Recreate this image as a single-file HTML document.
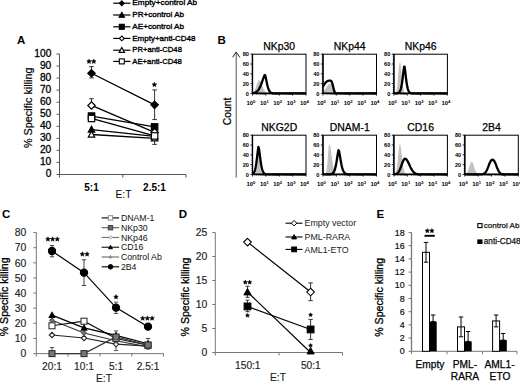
<!DOCTYPE html>
<html><head><meta charset="utf-8"><style>
html,body{margin:0;padding:0;background:#fff;overflow:hidden;width:520px;height:382px;}
svg{display:block;font-family:"Liberation Sans", sans-serif;}
</style></head><body>
<svg width="520" height="382" viewBox="0 0 520 382">
<rect width="520" height="382" fill="#fff"/>
<text x="17" y="43.6" font-size="11.5" text-anchor="start" font-weight="bold" fill="#000" >A</text>
<line x1="59.5" y1="54.0" x2="59.5" y2="174.5" stroke="#555" stroke-width="1" />
<line x1="56.5" y1="174.5" x2="59.5" y2="174.5" stroke="#555" stroke-width="1" />
<text x="51.3" y="177.4" font-size="10.2" text-anchor="end" font-weight="normal" fill="#000" stroke="#000" stroke-width="0.3">0</text>
<line x1="56.5" y1="162.45" x2="59.5" y2="162.45" stroke="#555" stroke-width="1" />
<text x="51.3" y="165.35" font-size="10.2" text-anchor="end" font-weight="normal" fill="#000" stroke="#000" stroke-width="0.3">10</text>
<line x1="56.5" y1="150.4" x2="59.5" y2="150.4" stroke="#555" stroke-width="1" />
<text x="51.3" y="153.3" font-size="10.2" text-anchor="end" font-weight="normal" fill="#000" stroke="#000" stroke-width="0.3">20</text>
<line x1="56.5" y1="138.35" x2="59.5" y2="138.35" stroke="#555" stroke-width="1" />
<text x="51.3" y="141.25" font-size="10.2" text-anchor="end" font-weight="normal" fill="#000" stroke="#000" stroke-width="0.3">30</text>
<line x1="56.5" y1="126.3" x2="59.5" y2="126.3" stroke="#555" stroke-width="1" />
<text x="51.3" y="129.2" font-size="10.2" text-anchor="end" font-weight="normal" fill="#000" stroke="#000" stroke-width="0.3">40</text>
<line x1="56.5" y1="114.25" x2="59.5" y2="114.25" stroke="#555" stroke-width="1" />
<text x="51.3" y="117.15" font-size="10.2" text-anchor="end" font-weight="normal" fill="#000" stroke="#000" stroke-width="0.3">50</text>
<line x1="56.5" y1="102.19999999999999" x2="59.5" y2="102.19999999999999" stroke="#555" stroke-width="1" />
<text x="51.3" y="105.1" font-size="10.2" text-anchor="end" font-weight="normal" fill="#000" stroke="#000" stroke-width="0.3">60</text>
<line x1="56.5" y1="90.14999999999999" x2="59.5" y2="90.14999999999999" stroke="#555" stroke-width="1" />
<text x="51.3" y="93.05" font-size="10.2" text-anchor="end" font-weight="normal" fill="#000" stroke="#000" stroke-width="0.3">70</text>
<line x1="56.5" y1="78.1" x2="59.5" y2="78.1" stroke="#555" stroke-width="1" />
<text x="51.3" y="81.0" font-size="10.2" text-anchor="end" font-weight="normal" fill="#000" stroke="#000" stroke-width="0.3">80</text>
<line x1="56.5" y1="66.05" x2="59.5" y2="66.05" stroke="#555" stroke-width="1" />
<text x="51.3" y="68.95" font-size="10.2" text-anchor="end" font-weight="normal" fill="#000" stroke="#000" stroke-width="0.3">90</text>
<line x1="56.5" y1="54.0" x2="59.5" y2="54.0" stroke="#555" stroke-width="1" />
<text x="51.3" y="56.9" font-size="10.2" text-anchor="end" font-weight="normal" fill="#000" stroke="#000" stroke-width="0.3">100</text>
<line x1="59.5" y1="174.5" x2="186" y2="174.5" stroke="#555" stroke-width="1" />
<line x1="59.5" y1="174.5" x2="59.5" y2="177.5" stroke="#555" stroke-width="1" />
<line x1="122.8" y1="174.5" x2="122.8" y2="177.5" stroke="#555" stroke-width="1" />
<line x1="186" y1="174.5" x2="186" y2="177.5" stroke="#555" stroke-width="1" />
<text x="91.5" y="190.8" font-size="10" text-anchor="middle" font-weight="bold" fill="#000" >5:1</text>
<text x="154.5" y="190.8" font-size="10" text-anchor="middle" font-weight="bold" fill="#000" >2.5:1</text>
<text x="123.5" y="197.6" font-size="10.2" text-anchor="middle" font-weight="normal" fill="#000" >E:T</text>
<text transform="translate(31.5,107.8) rotate(-90)" font-size="10.8" stroke="#000" stroke-width="0.2" text-anchor="middle">% Specific killing</text>
<line x1="91.5" y1="66.65249999999999" x2="91.5" y2="77.859" stroke="#333" stroke-width="1" />
<line x1="89.2" y1="66.65249999999999" x2="93.8" y2="66.65249999999999" stroke="#333" stroke-width="1" />
<line x1="89.2" y1="77.859" x2="93.8" y2="77.859" stroke="#333" stroke-width="1" />
<line x1="154.6" y1="89.90899999999999" x2="154.6" y2="119.55199999999999" stroke="#333" stroke-width="1" />
<line x1="152.29999999999998" y1="89.90899999999999" x2="156.9" y2="89.90899999999999" stroke="#333" stroke-width="1" />
<line x1="152.29999999999998" y1="119.55199999999999" x2="156.9" y2="119.55199999999999" stroke="#333" stroke-width="1" />
<line x1="91.5" y1="98.7055" x2="91.5" y2="105.815" stroke="#333" stroke-width="1" />
<line x1="89.2" y1="98.7055" x2="93.8" y2="98.7055" stroke="#333" stroke-width="1" />
<line x1="89.2" y1="105.815" x2="93.8" y2="105.815" stroke="#333" stroke-width="1" />
<line x1="154.6" y1="144.375" x2="154.6" y2="135.94" stroke="#333" stroke-width="1" />
<line x1="152.29999999999998" y1="144.375" x2="156.9" y2="144.375" stroke="#333" stroke-width="1" />
<line x1="152.29999999999998" y1="135.94" x2="156.9" y2="135.94" stroke="#333" stroke-width="1" />
<line x1="91.5" y1="73.28" x2="154.6" y2="104.851" stroke="#000" stroke-width="1.3" />
<path d="M91.5 69.58L95.2 73.28L91.5 76.98L87.8 73.28Z" fill="#000" stroke="#000" stroke-width="1.2"/>
<path d="M154.6 101.151L158.29999999999998 104.851L154.6 108.551L150.9 104.851Z" fill="#000" stroke="#000" stroke-width="1.2"/>
<line x1="91.5" y1="129.55349999999999" x2="154.6" y2="136.3015" stroke="#000" stroke-width="1.3" />
<path d="M91.5 126.35349999999998L94.7 132.1135L88.3 132.1135Z" fill="#000" stroke="#000" stroke-width="1.2"/>
<path d="M154.6 133.10150000000002L157.79999999999998 138.8615L151.4 138.8615Z" fill="#000" stroke="#000" stroke-width="1.2"/>
<line x1="91.5" y1="116.0575" x2="154.6" y2="126.9025" stroke="#000" stroke-width="1.3" />
<rect x="88.3" y="112.8575" width="6.4" height="6.4" fill="#000" stroke="#000" stroke-width="1.2"/>
<rect x="151.4" y="123.7025" width="6.4" height="6.4" fill="#000" stroke="#000" stroke-width="1.2"/>
<line x1="91.5" y1="105.4535" x2="154.6" y2="132.325" stroke="#000" stroke-width="1.3" />
<path d="M91.5 101.7535L95.2 105.4535L91.5 109.15350000000001L87.8 105.4535Z" fill="#fff" stroke="#000" stroke-width="1.2"/>
<path d="M154.6 128.625L158.29999999999998 132.325L154.6 136.02499999999998L150.9 132.325Z" fill="#fff" stroke="#000" stroke-width="1.2"/>
<line x1="91.5" y1="134.494" x2="154.6" y2="138.35" stroke="#000" stroke-width="1.3" />
<path d="M91.5 131.294L94.7 137.054L88.3 137.054Z" fill="#fff" stroke="#000" stroke-width="1.2"/>
<path d="M154.6 135.15L157.79999999999998 140.91L151.4 140.91Z" fill="#fff" stroke="#000" stroke-width="1.2"/>
<line x1="91.5" y1="118.4675" x2="154.6" y2="135.94" stroke="#000" stroke-width="1.3" />
<rect x="88.3" y="115.2675" width="6.4" height="6.4" fill="#fff" stroke="#000" stroke-width="1.2"/>
<rect x="151.4" y="132.74" width="6.4" height="6.4" fill="#fff" stroke="#000" stroke-width="1.2"/>
<polygon points="89.05,59.10 89.70,60.61 91.33,60.76 90.10,61.84 90.46,63.44 89.05,62.60 87.64,63.44 88.00,61.84 86.77,60.76 88.40,60.61" fill="#000" stroke="#000" stroke-width="0.5" stroke-linejoin="round"/>
<polygon points="93.75,59.10 94.40,60.61 96.03,60.76 94.80,61.84 95.16,63.44 93.75,62.60 92.34,63.44 92.70,61.84 91.47,60.76 93.10,60.61" fill="#000" stroke="#000" stroke-width="0.5" stroke-linejoin="round"/>
<polygon points="154.40,82.30 155.05,83.81 156.68,83.96 155.45,85.04 155.81,86.64 154.40,85.80 152.99,86.64 153.35,85.04 152.12,83.96 153.75,83.81" fill="#000" stroke="#000" stroke-width="0.5" stroke-linejoin="round"/>
<line x1="113.2" y1="3.2" x2="130.5" y2="3.2" stroke="#000" stroke-width="1.2" />
<path d="M121.8 0.8000000000000003L124.2 3.2L121.8 5.6L119.39999999999999 3.2Z" fill="#000" stroke="#000" stroke-width="1.1"/>
<text x="132.3" y="5.4" font-size="8.0" text-anchor="start" font-weight="normal" fill="#000" textLength="64.9" lengthAdjust="spacingAndGlyphs" stroke="#000" stroke-width="0.35">Empty+control Ab</text>
<line x1="113.2" y1="15.0" x2="130.5" y2="15.0" stroke="#000" stroke-width="1.2" />
<path d="M121.8 12.3L124.5 17.16L119.1 17.16Z" fill="#000" stroke="#000" stroke-width="1.1"/>
<text x="132.3" y="17.2" font-size="8.0" text-anchor="start" font-weight="normal" fill="#000" textLength="51.7" lengthAdjust="spacingAndGlyphs" stroke="#000" stroke-width="0.35">PR+control Ab</text>
<line x1="113.2" y1="26.8" x2="130.5" y2="26.8" stroke="#000" stroke-width="1.2" />
<rect x="119.3" y="24.3" width="5.0" height="5.0" fill="#000" stroke="#000" stroke-width="1.1"/>
<text x="132.3" y="29.0" font-size="8.0" text-anchor="start" font-weight="normal" fill="#000" textLength="51.7" lengthAdjust="spacingAndGlyphs" stroke="#000" stroke-width="0.35">AE+control Ab</text>
<line x1="113.2" y1="38.4" x2="130.5" y2="38.4" stroke="#000" stroke-width="1.2" />
<path d="M121.8 36.0L124.2 38.4L121.8 40.8L119.39999999999999 38.4Z" fill="#fff" stroke="#000" stroke-width="1.1"/>
<text x="132.3" y="40.6" font-size="8.0" text-anchor="start" font-weight="normal" fill="#000" textLength="63.2" lengthAdjust="spacingAndGlyphs" stroke="#000" stroke-width="0.35">Empty+anti-CD48</text>
<line x1="113.2" y1="50.2" x2="130.5" y2="50.2" stroke="#000" stroke-width="1.2" />
<path d="M121.8 47.5L124.5 52.36L119.1 52.36Z" fill="#fff" stroke="#000" stroke-width="1.1"/>
<text x="132.3" y="52.400000000000006" font-size="8.0" text-anchor="start" font-weight="normal" fill="#000" textLength="49.6" lengthAdjust="spacingAndGlyphs" stroke="#000" stroke-width="0.35">PR+anti-CD48</text>
<line x1="113.2" y1="61.4" x2="130.5" y2="61.4" stroke="#000" stroke-width="1.2" />
<rect x="119.3" y="58.9" width="5.0" height="5.0" fill="#fff" stroke="#000" stroke-width="1.1"/>
<text x="132.3" y="63.6" font-size="8.0" text-anchor="start" font-weight="normal" fill="#000" textLength="49.6" lengthAdjust="spacingAndGlyphs" stroke="#000" stroke-width="0.35">AE+anti-CD48</text>
<text x="217.5" y="44" font-size="11.5" text-anchor="start" font-weight="bold" fill="#000" >B</text>
<text transform="translate(230.9,111.5) rotate(-90)" font-size="10.3" stroke="#000" stroke-width="0.25" text-anchor="middle">Count</text>
<line x1="236.2" y1="52.5" x2="236.2" y2="177.5" stroke="#555" stroke-width="1" />
<path d="M232.6 57.4L236.2 52L239.8 57.4" fill="none" stroke="#222" stroke-width="1"/>
<text x="279.25" y="50.1" font-size="10.4" text-anchor="middle" font-weight="normal" fill="#000" stroke="#000" stroke-width="0.25">NKp30</text>
<path d="M252.50 92.82 L253.03 92.46 L253.57 91.94 L254.10 91.22 L254.64 90.28 L255.18 89.10 L255.71 87.72 L256.25 86.18 L256.78 84.58 L257.31 83.04 L257.85 81.72 L258.38 80.75 L258.92 80.24 L259.45 80.22 L259.99 80.65 L260.52 81.47 L261.06 82.60 L261.60 83.93 L262.13 85.38 L262.67 86.82 L263.20 88.18 L263.74 89.39 L264.27 90.42 L264.81 91.26 L265.34 91.91 L265.88 92.40 L266.41 92.75 L266.94 92.99 L267.48 93.15 L268.01 93.25 L268.55 93.32 L269.08 93.35 L269.62 93.38 L270.15 93.39 L270.69 93.39 L271.23 93.40 L271.76 93.40 L272.30 93.40 L272.83 93.40 L273.37 93.40 L273.90 93.40 L274.44 93.40 L274.97 93.40 L275.50 93.40 L276.04 93.40 L276.57 93.40 L277.11 93.40 L277.64 93.40 L278.18 93.40 L278.71 93.40 L279.25 93.40 L279.79 93.40 L280.32 93.40 L280.86 93.40 L281.39 93.40 L281.93 93.40 L282.46 93.40 L283.00 93.40 L283.53 93.40 L284.06 93.40 L284.60 93.40 L285.13 93.40 L285.67 93.40 L286.20 93.40 L286.74 93.40 L287.27 93.40 L287.81 93.40 L288.35 93.40 L288.88 93.40 L289.42 93.40 L289.95 93.40 L290.49 93.40 L291.02 93.40 L291.56 93.40 L292.09 93.40 L292.62 93.40 L293.16 93.40 L293.69 93.40 L294.23 93.40 L294.76 93.40 L295.30 93.40 L295.83 93.40 L296.37 93.40 L296.90 93.40 L297.44 93.40 L297.98 93.40 L298.51 93.40 L299.05 93.40 L299.58 93.40 L300.12 93.40 L300.65 93.40 L301.19 93.40 L301.72 93.40 L302.25 93.40 L302.79 93.40 L303.32 93.40 L303.86 93.40 L304.39 93.40 L304.93 93.40 L305.46 93.40 L306.00 93.40 L306.0 93.4 L252.5 93.4Z" fill="#c2c2c2" stroke="none"/>
<path d="M252.50 93.16 L253.03 93.08 L253.57 92.98 L254.10 92.86 L254.64 92.70 L255.18 92.49 L255.71 92.24 L256.25 91.93 L256.78 91.55 L257.31 91.09 L257.85 90.53 L258.38 89.87 L258.92 89.09 L259.45 88.18 L259.99 87.14 L260.52 85.97 L261.06 84.66 L261.60 83.24 L262.13 81.72 L262.67 80.14 L263.20 78.56 L263.74 77.06 L264.27 75.76 L264.81 74.87 L265.34 75.78 L265.88 78.12 L266.41 80.78 L266.94 83.38 L267.48 85.70 L268.01 87.66 L268.55 89.23 L269.08 90.45 L269.62 91.35 L270.15 92.01 L270.69 92.48 L271.23 92.80 L271.76 93.02 L272.30 93.16 L272.83 93.25 L273.37 93.31 L273.90 93.35 L274.44 93.37 L274.97 93.38 L275.50 93.39 L276.04 93.39 L276.57 93.40 L277.11 93.40 L277.64 93.40 L278.18 93.40 L278.71 93.40 L279.25 93.40 L279.79 93.40 L280.32 93.40 L280.86 93.40 L281.39 93.40 L281.93 93.40 L282.46 93.40 L283.00 93.40 L283.53 93.40 L284.06 93.40 L284.60 93.40 L285.13 93.40 L285.67 93.40 L286.20 93.40 L286.74 93.40 L287.27 93.40 L287.81 93.40 L288.35 93.40 L288.88 93.40 L289.42 93.40 L289.95 93.40 L290.49 93.40 L291.02 93.40 L291.56 93.40 L292.09 93.40 L292.62 93.40 L293.16 93.40 L293.69 93.40 L294.23 93.40 L294.76 93.40 L295.30 93.40 L295.83 93.40 L296.37 93.40 L296.90 93.40 L297.44 93.40 L297.98 93.40 L298.51 93.40 L299.05 93.40 L299.58 93.40 L300.12 93.40 L300.65 93.40 L301.19 93.40 L301.72 93.40 L302.25 93.40 L302.79 93.40 L303.32 93.40 L303.86 93.40 L304.39 93.40 L304.93 93.40 L305.46 93.40 L306.00 93.40" fill="none" stroke="#000" stroke-width="2.3" stroke-linejoin="round"/>
<rect x="252.5" y="54.2" width="53.5" height="39.2" fill="none" stroke="#000" stroke-width="1"/>
<line x1="252.5" y1="93.4" x2="306.0" y2="93.4" stroke="#000" stroke-width="1.6" />
<line x1="252.5" y1="54.2" x2="252.5" y2="93.4" stroke="#000" stroke-width="1.3" />
<line x1="250.3" y1="93.4" x2="252.5" y2="93.4" stroke="#000" stroke-width="0.8" />
<text x="248.9" y="95.5" font-size="5.6" text-anchor="end" font-weight="bold" fill="#000" >0</text>
<line x1="250.3" y1="83.60000000000001" x2="252.5" y2="83.60000000000001" stroke="#000" stroke-width="0.8" />
<text x="248.9" y="85.7" font-size="5.6" text-anchor="end" font-weight="bold" fill="#000" >20</text>
<line x1="250.3" y1="73.80000000000001" x2="252.5" y2="73.80000000000001" stroke="#000" stroke-width="0.8" />
<text x="248.9" y="75.9" font-size="5.6" text-anchor="end" font-weight="bold" fill="#000" >40</text>
<line x1="250.3" y1="64.0" x2="252.5" y2="64.0" stroke="#000" stroke-width="0.8" />
<text x="248.9" y="66.1" font-size="5.6" text-anchor="end" font-weight="bold" fill="#000" >60</text>
<line x1="250.3" y1="54.2" x2="252.5" y2="54.2" stroke="#000" stroke-width="0.8" />
<text x="248.9" y="56.300000000000004" font-size="5.6" text-anchor="end" font-weight="bold" fill="#000" >80</text>
<line x1="251.3" y1="93.4" x2="252.5" y2="93.4" stroke="#000" stroke-width="0.5" />
<line x1="251.3" y1="91.44000000000001" x2="252.5" y2="91.44000000000001" stroke="#000" stroke-width="0.5" />
<line x1="251.3" y1="89.48" x2="252.5" y2="89.48" stroke="#000" stroke-width="0.5" />
<line x1="251.3" y1="87.52000000000001" x2="252.5" y2="87.52000000000001" stroke="#000" stroke-width="0.5" />
<line x1="251.3" y1="85.56" x2="252.5" y2="85.56" stroke="#000" stroke-width="0.5" />
<line x1="251.3" y1="83.60000000000001" x2="252.5" y2="83.60000000000001" stroke="#000" stroke-width="0.5" />
<line x1="251.3" y1="81.64" x2="252.5" y2="81.64" stroke="#000" stroke-width="0.5" />
<line x1="251.3" y1="79.68" x2="252.5" y2="79.68" stroke="#000" stroke-width="0.5" />
<line x1="251.3" y1="77.72" x2="252.5" y2="77.72" stroke="#000" stroke-width="0.5" />
<line x1="251.3" y1="75.76" x2="252.5" y2="75.76" stroke="#000" stroke-width="0.5" />
<line x1="251.3" y1="73.80000000000001" x2="252.5" y2="73.80000000000001" stroke="#000" stroke-width="0.5" />
<line x1="251.3" y1="71.84" x2="252.5" y2="71.84" stroke="#000" stroke-width="0.5" />
<line x1="251.3" y1="69.88" x2="252.5" y2="69.88" stroke="#000" stroke-width="0.5" />
<line x1="251.3" y1="67.92" x2="252.5" y2="67.92" stroke="#000" stroke-width="0.5" />
<line x1="251.3" y1="65.96000000000001" x2="252.5" y2="65.96000000000001" stroke="#000" stroke-width="0.5" />
<line x1="251.3" y1="64.0" x2="252.5" y2="64.0" stroke="#000" stroke-width="0.5" />
<line x1="251.3" y1="62.040000000000006" x2="252.5" y2="62.040000000000006" stroke="#000" stroke-width="0.5" />
<line x1="251.3" y1="60.08" x2="252.5" y2="60.08" stroke="#000" stroke-width="0.5" />
<line x1="251.3" y1="58.120000000000005" x2="252.5" y2="58.120000000000005" stroke="#000" stroke-width="0.5" />
<line x1="251.3" y1="56.160000000000004" x2="252.5" y2="56.160000000000004" stroke="#000" stroke-width="0.5" />
<line x1="251.3" y1="54.2" x2="252.5" y2="54.2" stroke="#000" stroke-width="0.5" />
<line x1="252.5" y1="93.4" x2="252.5" y2="95.60000000000001" stroke="#000" stroke-width="0.8" />
<text x="251.0" y="105.4" font-size="5.9" font-weight="bold" text-anchor="middle">10<tspan dy="-2.8" font-size="4.2">0</tspan></text>
<line x1="256.52627619200575" y1="93.4" x2="256.52627619200575" y2="94.7" stroke="#000" stroke-width="0.5" />
<line x1="258.8814967818755" y1="93.4" x2="258.8814967818755" y2="94.7" stroke="#000" stroke-width="0.5" />
<line x1="260.5525523840115" y1="93.4" x2="260.5525523840115" y2="94.7" stroke="#000" stroke-width="0.5" />
<line x1="261.84872380799425" y1="93.4" x2="261.84872380799425" y2="94.7" stroke="#000" stroke-width="0.5" />
<line x1="262.9077729738812" y1="93.4" x2="262.9077729738812" y2="94.7" stroke="#000" stroke-width="0.5" />
<line x1="263.8031862851907" y1="93.4" x2="263.8031862851907" y2="94.7" stroke="#000" stroke-width="0.5" />
<line x1="264.57882857601726" y1="93.4" x2="264.57882857601726" y2="94.7" stroke="#000" stroke-width="0.5" />
<line x1="265.26299356375097" y1="93.4" x2="265.26299356375097" y2="94.7" stroke="#000" stroke-width="0.5" />
<line x1="265.875" y1="93.4" x2="265.875" y2="95.60000000000001" stroke="#000" stroke-width="0.8" />
<text x="264.375" y="105.4" font-size="5.9" font-weight="bold" text-anchor="middle">10<tspan dy="-2.8" font-size="4.2">1</tspan></text>
<line x1="269.90127619200575" y1="93.4" x2="269.90127619200575" y2="94.7" stroke="#000" stroke-width="0.5" />
<line x1="272.2564967818755" y1="93.4" x2="272.2564967818755" y2="94.7" stroke="#000" stroke-width="0.5" />
<line x1="273.9275523840115" y1="93.4" x2="273.9275523840115" y2="94.7" stroke="#000" stroke-width="0.5" />
<line x1="275.22372380799425" y1="93.4" x2="275.22372380799425" y2="94.7" stroke="#000" stroke-width="0.5" />
<line x1="276.2827729738812" y1="93.4" x2="276.2827729738812" y2="94.7" stroke="#000" stroke-width="0.5" />
<line x1="277.1781862851907" y1="93.4" x2="277.1781862851907" y2="94.7" stroke="#000" stroke-width="0.5" />
<line x1="277.95382857601726" y1="93.4" x2="277.95382857601726" y2="94.7" stroke="#000" stroke-width="0.5" />
<line x1="278.63799356375097" y1="93.4" x2="278.63799356375097" y2="94.7" stroke="#000" stroke-width="0.5" />
<line x1="279.25" y1="93.4" x2="279.25" y2="95.60000000000001" stroke="#000" stroke-width="0.8" />
<text x="277.75" y="105.4" font-size="5.9" font-weight="bold" text-anchor="middle">10<tspan dy="-2.8" font-size="4.2">2</tspan></text>
<line x1="283.27627619200575" y1="93.4" x2="283.27627619200575" y2="94.7" stroke="#000" stroke-width="0.5" />
<line x1="285.6314967818755" y1="93.4" x2="285.6314967818755" y2="94.7" stroke="#000" stroke-width="0.5" />
<line x1="287.3025523840115" y1="93.4" x2="287.3025523840115" y2="94.7" stroke="#000" stroke-width="0.5" />
<line x1="288.59872380799425" y1="93.4" x2="288.59872380799425" y2="94.7" stroke="#000" stroke-width="0.5" />
<line x1="289.65777297388126" y1="93.4" x2="289.65777297388126" y2="94.7" stroke="#000" stroke-width="0.5" />
<line x1="290.5531862851907" y1="93.4" x2="290.5531862851907" y2="94.7" stroke="#000" stroke-width="0.5" />
<line x1="291.32882857601726" y1="93.4" x2="291.32882857601726" y2="94.7" stroke="#000" stroke-width="0.5" />
<line x1="292.01299356375097" y1="93.4" x2="292.01299356375097" y2="94.7" stroke="#000" stroke-width="0.5" />
<line x1="292.625" y1="93.4" x2="292.625" y2="95.60000000000001" stroke="#000" stroke-width="0.8" />
<text x="291.125" y="105.4" font-size="5.9" font-weight="bold" text-anchor="middle">10<tspan dy="-2.8" font-size="4.2">3</tspan></text>
<line x1="296.65127619200575" y1="93.4" x2="296.65127619200575" y2="94.7" stroke="#000" stroke-width="0.5" />
<line x1="299.0064967818755" y1="93.4" x2="299.0064967818755" y2="94.7" stroke="#000" stroke-width="0.5" />
<line x1="300.6775523840115" y1="93.4" x2="300.6775523840115" y2="94.7" stroke="#000" stroke-width="0.5" />
<line x1="301.97372380799425" y1="93.4" x2="301.97372380799425" y2="94.7" stroke="#000" stroke-width="0.5" />
<line x1="303.03277297388126" y1="93.4" x2="303.03277297388126" y2="94.7" stroke="#000" stroke-width="0.5" />
<line x1="303.9281862851907" y1="93.4" x2="303.9281862851907" y2="94.7" stroke="#000" stroke-width="0.5" />
<line x1="304.70382857601726" y1="93.4" x2="304.70382857601726" y2="94.7" stroke="#000" stroke-width="0.5" />
<line x1="305.38799356375097" y1="93.4" x2="305.38799356375097" y2="94.7" stroke="#000" stroke-width="0.5" />
<line x1="306.0" y1="93.4" x2="306.0" y2="95.60000000000001" stroke="#000" stroke-width="0.8" />
<text x="304.5" y="105.4" font-size="5.9" font-weight="bold" text-anchor="middle">10<tspan dy="-2.8" font-size="4.2">4</tspan></text>
<text x="349.75" y="50.1" font-size="10.4" text-anchor="middle" font-weight="normal" fill="#000" stroke="#000" stroke-width="0.25">NKp44</text>
<path d="M323.00 91.57 L323.54 91.09 L324.07 90.53 L324.61 89.89 L325.14 89.19 L325.68 88.44 L326.21 87.65 L326.75 86.86 L327.28 86.10 L327.81 85.38 L328.35 84.75 L328.88 84.24 L329.42 83.86 L329.95 83.65 L330.49 83.61 L331.02 83.90 L331.56 84.54 L332.10 85.47 L332.63 86.57 L333.17 87.75 L333.70 88.91 L334.24 89.97 L334.77 90.89 L335.31 91.63 L335.84 92.20 L336.38 92.62 L336.91 92.91 L337.44 93.11 L337.98 93.23 L338.51 93.31 L339.05 93.35 L339.58 93.37 L340.12 93.39 L340.65 93.39 L341.19 93.40 L341.73 93.40 L342.26 93.40 L342.80 93.40 L343.33 93.40 L343.87 93.40 L344.40 93.40 L344.94 93.40 L345.47 93.40 L346.00 93.40 L346.54 93.40 L347.07 93.40 L347.61 93.40 L348.14 93.40 L348.68 93.40 L349.21 93.40 L349.75 93.40 L350.29 93.40 L350.82 93.40 L351.36 93.40 L351.89 93.40 L352.43 93.40 L352.96 93.40 L353.50 93.40 L354.03 93.40 L354.56 93.40 L355.10 93.40 L355.63 93.40 L356.17 93.40 L356.70 93.40 L357.24 93.40 L357.77 93.40 L358.31 93.40 L358.85 93.40 L359.38 93.40 L359.92 93.40 L360.45 93.40 L360.99 93.40 L361.52 93.40 L362.06 93.40 L362.59 93.40 L363.12 93.40 L363.66 93.40 L364.19 93.40 L364.73 93.40 L365.26 93.40 L365.80 93.40 L366.33 93.40 L366.87 93.40 L367.40 93.40 L367.94 93.40 L368.48 93.40 L369.01 93.40 L369.55 93.40 L370.08 93.40 L370.62 93.40 L371.15 93.40 L371.69 93.40 L372.22 93.40 L372.75 93.40 L373.29 93.40 L373.82 93.40 L374.36 93.40 L374.89 93.40 L375.43 93.40 L375.96 93.40 L376.50 93.40 L376.5 93.4 L323.0 93.4Z" fill="#c2c2c2" stroke="none"/>
<path d="M323.00 86.61 L323.54 85.67 L324.07 84.77 L324.61 83.93 L325.14 83.17 L325.68 82.51 L326.21 81.96 L326.75 81.52 L327.28 81.19 L327.81 80.95 L328.35 80.80 L328.88 80.71 L329.42 80.67 L329.95 80.66 L330.49 80.67 L331.02 80.83 L331.56 81.43 L332.10 82.67 L332.63 84.55 L333.17 86.85 L333.70 89.15 L334.24 91.04 L334.77 92.31 L335.31 92.99 L335.84 93.28 L336.38 93.37 L336.91 93.39 L337.44 93.40 L337.98 93.40 L338.51 93.40 L339.05 93.40 L339.58 93.40 L340.12 93.40 L340.65 93.40 L341.19 93.40 L341.73 93.40 L342.26 93.40 L342.80 93.40 L343.33 93.40 L343.87 93.40 L344.40 93.40 L344.94 93.40 L345.47 93.40 L346.00 93.40 L346.54 93.40 L347.07 93.40 L347.61 93.40 L348.14 93.40 L348.68 93.40 L349.21 93.40 L349.75 93.40 L350.29 93.40 L350.82 93.40 L351.36 93.40 L351.89 93.40 L352.43 93.40 L352.96 93.40 L353.50 93.40 L354.03 93.40 L354.56 93.40 L355.10 93.40 L355.63 93.40 L356.17 93.40 L356.70 93.40 L357.24 93.40 L357.77 93.40 L358.31 93.40 L358.85 93.40 L359.38 93.40 L359.92 93.40 L360.45 93.40 L360.99 93.40 L361.52 93.40 L362.06 93.40 L362.59 93.40 L363.12 93.40 L363.66 93.40 L364.19 93.40 L364.73 93.40 L365.26 93.40 L365.80 93.40 L366.33 93.40 L366.87 93.40 L367.40 93.40 L367.94 93.40 L368.48 93.40 L369.01 93.40 L369.55 93.40 L370.08 93.40 L370.62 93.40 L371.15 93.40 L371.69 93.40 L372.22 93.40 L372.75 93.40 L373.29 93.40 L373.82 93.40 L374.36 93.40 L374.89 93.40 L375.43 93.40 L375.96 93.40 L376.50 93.40" fill="none" stroke="#000" stroke-width="2.3" stroke-linejoin="round"/>
<rect x="323.0" y="54.2" width="53.5" height="39.2" fill="none" stroke="#000" stroke-width="1"/>
<line x1="323.0" y1="93.4" x2="376.5" y2="93.4" stroke="#000" stroke-width="1.6" />
<line x1="323.0" y1="54.2" x2="323.0" y2="93.4" stroke="#000" stroke-width="1.3" />
<line x1="320.8" y1="93.4" x2="323.0" y2="93.4" stroke="#000" stroke-width="0.8" />
<text x="319.4" y="95.5" font-size="5.6" text-anchor="end" font-weight="bold" fill="#000" >0</text>
<line x1="320.8" y1="83.60000000000001" x2="323.0" y2="83.60000000000001" stroke="#000" stroke-width="0.8" />
<text x="319.4" y="85.7" font-size="5.6" text-anchor="end" font-weight="bold" fill="#000" >20</text>
<line x1="320.8" y1="73.80000000000001" x2="323.0" y2="73.80000000000001" stroke="#000" stroke-width="0.8" />
<text x="319.4" y="75.9" font-size="5.6" text-anchor="end" font-weight="bold" fill="#000" >40</text>
<line x1="320.8" y1="64.0" x2="323.0" y2="64.0" stroke="#000" stroke-width="0.8" />
<text x="319.4" y="66.1" font-size="5.6" text-anchor="end" font-weight="bold" fill="#000" >60</text>
<line x1="320.8" y1="54.2" x2="323.0" y2="54.2" stroke="#000" stroke-width="0.8" />
<text x="319.4" y="56.300000000000004" font-size="5.6" text-anchor="end" font-weight="bold" fill="#000" >80</text>
<line x1="321.8" y1="93.4" x2="323.0" y2="93.4" stroke="#000" stroke-width="0.5" />
<line x1="321.8" y1="91.44000000000001" x2="323.0" y2="91.44000000000001" stroke="#000" stroke-width="0.5" />
<line x1="321.8" y1="89.48" x2="323.0" y2="89.48" stroke="#000" stroke-width="0.5" />
<line x1="321.8" y1="87.52000000000001" x2="323.0" y2="87.52000000000001" stroke="#000" stroke-width="0.5" />
<line x1="321.8" y1="85.56" x2="323.0" y2="85.56" stroke="#000" stroke-width="0.5" />
<line x1="321.8" y1="83.60000000000001" x2="323.0" y2="83.60000000000001" stroke="#000" stroke-width="0.5" />
<line x1="321.8" y1="81.64" x2="323.0" y2="81.64" stroke="#000" stroke-width="0.5" />
<line x1="321.8" y1="79.68" x2="323.0" y2="79.68" stroke="#000" stroke-width="0.5" />
<line x1="321.8" y1="77.72" x2="323.0" y2="77.72" stroke="#000" stroke-width="0.5" />
<line x1="321.8" y1="75.76" x2="323.0" y2="75.76" stroke="#000" stroke-width="0.5" />
<line x1="321.8" y1="73.80000000000001" x2="323.0" y2="73.80000000000001" stroke="#000" stroke-width="0.5" />
<line x1="321.8" y1="71.84" x2="323.0" y2="71.84" stroke="#000" stroke-width="0.5" />
<line x1="321.8" y1="69.88" x2="323.0" y2="69.88" stroke="#000" stroke-width="0.5" />
<line x1="321.8" y1="67.92" x2="323.0" y2="67.92" stroke="#000" stroke-width="0.5" />
<line x1="321.8" y1="65.96000000000001" x2="323.0" y2="65.96000000000001" stroke="#000" stroke-width="0.5" />
<line x1="321.8" y1="64.0" x2="323.0" y2="64.0" stroke="#000" stroke-width="0.5" />
<line x1="321.8" y1="62.040000000000006" x2="323.0" y2="62.040000000000006" stroke="#000" stroke-width="0.5" />
<line x1="321.8" y1="60.08" x2="323.0" y2="60.08" stroke="#000" stroke-width="0.5" />
<line x1="321.8" y1="58.120000000000005" x2="323.0" y2="58.120000000000005" stroke="#000" stroke-width="0.5" />
<line x1="321.8" y1="56.160000000000004" x2="323.0" y2="56.160000000000004" stroke="#000" stroke-width="0.5" />
<line x1="321.8" y1="54.2" x2="323.0" y2="54.2" stroke="#000" stroke-width="0.5" />
<line x1="323.0" y1="93.4" x2="323.0" y2="95.60000000000001" stroke="#000" stroke-width="0.8" />
<text x="321.5" y="105.4" font-size="5.9" font-weight="bold" text-anchor="middle">10<tspan dy="-2.8" font-size="4.2">0</tspan></text>
<line x1="327.02627619200575" y1="93.4" x2="327.02627619200575" y2="94.7" stroke="#000" stroke-width="0.5" />
<line x1="329.3814967818755" y1="93.4" x2="329.3814967818755" y2="94.7" stroke="#000" stroke-width="0.5" />
<line x1="331.0525523840115" y1="93.4" x2="331.0525523840115" y2="94.7" stroke="#000" stroke-width="0.5" />
<line x1="332.34872380799425" y1="93.4" x2="332.34872380799425" y2="94.7" stroke="#000" stroke-width="0.5" />
<line x1="333.4077729738812" y1="93.4" x2="333.4077729738812" y2="94.7" stroke="#000" stroke-width="0.5" />
<line x1="334.3031862851907" y1="93.4" x2="334.3031862851907" y2="94.7" stroke="#000" stroke-width="0.5" />
<line x1="335.07882857601726" y1="93.4" x2="335.07882857601726" y2="94.7" stroke="#000" stroke-width="0.5" />
<line x1="335.76299356375097" y1="93.4" x2="335.76299356375097" y2="94.7" stroke="#000" stroke-width="0.5" />
<line x1="336.375" y1="93.4" x2="336.375" y2="95.60000000000001" stroke="#000" stroke-width="0.8" />
<text x="334.875" y="105.4" font-size="5.9" font-weight="bold" text-anchor="middle">10<tspan dy="-2.8" font-size="4.2">1</tspan></text>
<line x1="340.40127619200575" y1="93.4" x2="340.40127619200575" y2="94.7" stroke="#000" stroke-width="0.5" />
<line x1="342.7564967818755" y1="93.4" x2="342.7564967818755" y2="94.7" stroke="#000" stroke-width="0.5" />
<line x1="344.4275523840115" y1="93.4" x2="344.4275523840115" y2="94.7" stroke="#000" stroke-width="0.5" />
<line x1="345.72372380799425" y1="93.4" x2="345.72372380799425" y2="94.7" stroke="#000" stroke-width="0.5" />
<line x1="346.7827729738812" y1="93.4" x2="346.7827729738812" y2="94.7" stroke="#000" stroke-width="0.5" />
<line x1="347.6781862851907" y1="93.4" x2="347.6781862851907" y2="94.7" stroke="#000" stroke-width="0.5" />
<line x1="348.45382857601726" y1="93.4" x2="348.45382857601726" y2="94.7" stroke="#000" stroke-width="0.5" />
<line x1="349.13799356375097" y1="93.4" x2="349.13799356375097" y2="94.7" stroke="#000" stroke-width="0.5" />
<line x1="349.75" y1="93.4" x2="349.75" y2="95.60000000000001" stroke="#000" stroke-width="0.8" />
<text x="348.25" y="105.4" font-size="5.9" font-weight="bold" text-anchor="middle">10<tspan dy="-2.8" font-size="4.2">2</tspan></text>
<line x1="353.77627619200575" y1="93.4" x2="353.77627619200575" y2="94.7" stroke="#000" stroke-width="0.5" />
<line x1="356.1314967818755" y1="93.4" x2="356.1314967818755" y2="94.7" stroke="#000" stroke-width="0.5" />
<line x1="357.8025523840115" y1="93.4" x2="357.8025523840115" y2="94.7" stroke="#000" stroke-width="0.5" />
<line x1="359.09872380799425" y1="93.4" x2="359.09872380799425" y2="94.7" stroke="#000" stroke-width="0.5" />
<line x1="360.15777297388126" y1="93.4" x2="360.15777297388126" y2="94.7" stroke="#000" stroke-width="0.5" />
<line x1="361.0531862851907" y1="93.4" x2="361.0531862851907" y2="94.7" stroke="#000" stroke-width="0.5" />
<line x1="361.82882857601726" y1="93.4" x2="361.82882857601726" y2="94.7" stroke="#000" stroke-width="0.5" />
<line x1="362.51299356375097" y1="93.4" x2="362.51299356375097" y2="94.7" stroke="#000" stroke-width="0.5" />
<line x1="363.125" y1="93.4" x2="363.125" y2="95.60000000000001" stroke="#000" stroke-width="0.8" />
<text x="361.625" y="105.4" font-size="5.9" font-weight="bold" text-anchor="middle">10<tspan dy="-2.8" font-size="4.2">3</tspan></text>
<line x1="367.15127619200575" y1="93.4" x2="367.15127619200575" y2="94.7" stroke="#000" stroke-width="0.5" />
<line x1="369.5064967818755" y1="93.4" x2="369.5064967818755" y2="94.7" stroke="#000" stroke-width="0.5" />
<line x1="371.1775523840115" y1="93.4" x2="371.1775523840115" y2="94.7" stroke="#000" stroke-width="0.5" />
<line x1="372.47372380799425" y1="93.4" x2="372.47372380799425" y2="94.7" stroke="#000" stroke-width="0.5" />
<line x1="373.53277297388126" y1="93.4" x2="373.53277297388126" y2="94.7" stroke="#000" stroke-width="0.5" />
<line x1="374.4281862851907" y1="93.4" x2="374.4281862851907" y2="94.7" stroke="#000" stroke-width="0.5" />
<line x1="375.20382857601726" y1="93.4" x2="375.20382857601726" y2="94.7" stroke="#000" stroke-width="0.5" />
<line x1="375.88799356375097" y1="93.4" x2="375.88799356375097" y2="94.7" stroke="#000" stroke-width="0.5" />
<line x1="376.5" y1="93.4" x2="376.5" y2="95.60000000000001" stroke="#000" stroke-width="0.8" />
<text x="375.0" y="105.4" font-size="5.9" font-weight="bold" text-anchor="middle">10<tspan dy="-2.8" font-size="4.2">4</tspan></text>
<text x="420.65" y="50.1" font-size="10.4" text-anchor="middle" font-weight="normal" fill="#000" stroke="#000" stroke-width="0.25">NKp46</text>
<path d="M393.90 93.37 L394.44 93.31 L394.97 93.13 L395.50 92.69 L396.04 91.71 L396.57 89.82 L397.11 86.62 L397.64 81.90 L398.18 75.96 L398.71 69.73 L399.25 64.65 L399.78 62.15 L400.32 62.86 L400.85 66.27 L401.39 71.48 L401.92 77.28 L402.46 82.62 L403.00 86.84 L403.53 89.77 L404.06 91.57 L404.60 92.56 L405.13 93.05 L405.67 93.27 L406.20 93.35 L406.74 93.39 L407.27 93.40 L407.81 93.40 L408.34 93.40 L408.88 93.40 L409.41 93.40 L409.95 93.40 L410.48 93.40 L411.02 93.40 L411.55 93.40 L412.09 93.40 L412.62 93.40 L413.16 93.40 L413.69 93.40 L414.23 93.40 L414.76 93.40 L415.30 93.40 L415.83 93.40 L416.37 93.40 L416.90 93.40 L417.44 93.40 L417.97 93.40 L418.51 93.40 L419.04 93.40 L419.58 93.40 L420.11 93.40 L420.65 93.40 L421.19 93.40 L421.72 93.40 L422.25 93.40 L422.79 93.40 L423.32 93.40 L423.86 93.40 L424.39 93.40 L424.93 93.40 L425.46 93.40 L426.00 93.40 L426.53 93.40 L427.07 93.40 L427.60 93.40 L428.14 93.40 L428.67 93.40 L429.21 93.40 L429.75 93.40 L430.28 93.40 L430.81 93.40 L431.35 93.40 L431.88 93.40 L432.42 93.40 L432.95 93.40 L433.49 93.40 L434.02 93.40 L434.56 93.40 L435.09 93.40 L435.63 93.40 L436.16 93.40 L436.70 93.40 L437.23 93.40 L437.77 93.40 L438.30 93.40 L438.84 93.40 L439.38 93.40 L439.91 93.40 L440.44 93.40 L440.98 93.40 L441.51 93.40 L442.05 93.40 L442.58 93.40 L443.12 93.40 L443.65 93.40 L444.19 93.40 L444.72 93.40 L445.26 93.40 L445.79 93.40 L446.33 93.40 L446.86 93.40 L447.40 93.40 L447.4 93.4 L393.9 93.4Z" fill="#c2c2c2" stroke="none"/>
<path d="M393.90 93.40 L394.44 93.40 L394.97 93.39 L395.50 93.38 L396.04 93.37 L396.57 93.33 L397.11 93.28 L397.64 93.18 L398.18 93.01 L398.71 92.73 L399.25 92.27 L399.78 91.55 L400.32 90.46 L400.85 88.86 L401.39 86.61 L401.92 83.59 L402.46 79.78 L403.00 75.29 L403.53 70.57 L404.06 66.53 L404.60 66.53 L405.13 70.57 L405.67 75.29 L406.20 79.78 L406.74 83.59 L407.27 86.61 L407.81 88.86 L408.34 90.46 L408.88 91.55 L409.41 92.27 L409.95 92.73 L410.48 93.01 L411.02 93.18 L411.55 93.28 L412.09 93.33 L412.62 93.37 L413.16 93.38 L413.69 93.39 L414.23 93.40 L414.76 93.40 L415.30 93.40 L415.83 93.40 L416.37 93.40 L416.90 93.40 L417.44 93.40 L417.97 93.40 L418.51 93.40 L419.04 93.40 L419.58 93.40 L420.11 93.40 L420.65 93.40 L421.19 93.40 L421.72 93.40 L422.25 93.40 L422.79 93.40 L423.32 93.40 L423.86 93.40 L424.39 93.40 L424.93 93.40 L425.46 93.40 L426.00 93.40 L426.53 93.40 L427.07 93.40 L427.60 93.40 L428.14 93.40 L428.67 93.40 L429.21 93.40 L429.75 93.40 L430.28 93.40 L430.81 93.40 L431.35 93.40 L431.88 93.40 L432.42 93.40 L432.95 93.40 L433.49 93.40 L434.02 93.40 L434.56 93.40 L435.09 93.40 L435.63 93.40 L436.16 93.40 L436.70 93.40 L437.23 93.40 L437.77 93.40 L438.30 93.40 L438.84 93.40 L439.38 93.40 L439.91 93.40 L440.44 93.40 L440.98 93.40 L441.51 93.40 L442.05 93.40 L442.58 93.40 L443.12 93.40 L443.65 93.40 L444.19 93.40 L444.72 93.40 L445.26 93.40 L445.79 93.40 L446.33 93.40 L446.86 93.40 L447.40 93.40" fill="none" stroke="#000" stroke-width="2.3" stroke-linejoin="round"/>
<rect x="393.9" y="54.2" width="53.5" height="39.2" fill="none" stroke="#000" stroke-width="1"/>
<line x1="393.9" y1="93.4" x2="447.4" y2="93.4" stroke="#000" stroke-width="1.6" />
<line x1="393.9" y1="54.2" x2="393.9" y2="93.4" stroke="#000" stroke-width="1.3" />
<line x1="391.7" y1="93.4" x2="393.9" y2="93.4" stroke="#000" stroke-width="0.8" />
<text x="390.29999999999995" y="95.5" font-size="5.6" text-anchor="end" font-weight="bold" fill="#000" >0</text>
<line x1="391.7" y1="83.60000000000001" x2="393.9" y2="83.60000000000001" stroke="#000" stroke-width="0.8" />
<text x="390.29999999999995" y="85.7" font-size="5.6" text-anchor="end" font-weight="bold" fill="#000" >20</text>
<line x1="391.7" y1="73.80000000000001" x2="393.9" y2="73.80000000000001" stroke="#000" stroke-width="0.8" />
<text x="390.29999999999995" y="75.9" font-size="5.6" text-anchor="end" font-weight="bold" fill="#000" >40</text>
<line x1="391.7" y1="64.0" x2="393.9" y2="64.0" stroke="#000" stroke-width="0.8" />
<text x="390.29999999999995" y="66.1" font-size="5.6" text-anchor="end" font-weight="bold" fill="#000" >60</text>
<line x1="391.7" y1="54.2" x2="393.9" y2="54.2" stroke="#000" stroke-width="0.8" />
<text x="390.29999999999995" y="56.300000000000004" font-size="5.6" text-anchor="end" font-weight="bold" fill="#000" >80</text>
<line x1="392.7" y1="93.4" x2="393.9" y2="93.4" stroke="#000" stroke-width="0.5" />
<line x1="392.7" y1="91.44000000000001" x2="393.9" y2="91.44000000000001" stroke="#000" stroke-width="0.5" />
<line x1="392.7" y1="89.48" x2="393.9" y2="89.48" stroke="#000" stroke-width="0.5" />
<line x1="392.7" y1="87.52000000000001" x2="393.9" y2="87.52000000000001" stroke="#000" stroke-width="0.5" />
<line x1="392.7" y1="85.56" x2="393.9" y2="85.56" stroke="#000" stroke-width="0.5" />
<line x1="392.7" y1="83.60000000000001" x2="393.9" y2="83.60000000000001" stroke="#000" stroke-width="0.5" />
<line x1="392.7" y1="81.64" x2="393.9" y2="81.64" stroke="#000" stroke-width="0.5" />
<line x1="392.7" y1="79.68" x2="393.9" y2="79.68" stroke="#000" stroke-width="0.5" />
<line x1="392.7" y1="77.72" x2="393.9" y2="77.72" stroke="#000" stroke-width="0.5" />
<line x1="392.7" y1="75.76" x2="393.9" y2="75.76" stroke="#000" stroke-width="0.5" />
<line x1="392.7" y1="73.80000000000001" x2="393.9" y2="73.80000000000001" stroke="#000" stroke-width="0.5" />
<line x1="392.7" y1="71.84" x2="393.9" y2="71.84" stroke="#000" stroke-width="0.5" />
<line x1="392.7" y1="69.88" x2="393.9" y2="69.88" stroke="#000" stroke-width="0.5" />
<line x1="392.7" y1="67.92" x2="393.9" y2="67.92" stroke="#000" stroke-width="0.5" />
<line x1="392.7" y1="65.96000000000001" x2="393.9" y2="65.96000000000001" stroke="#000" stroke-width="0.5" />
<line x1="392.7" y1="64.0" x2="393.9" y2="64.0" stroke="#000" stroke-width="0.5" />
<line x1="392.7" y1="62.040000000000006" x2="393.9" y2="62.040000000000006" stroke="#000" stroke-width="0.5" />
<line x1="392.7" y1="60.08" x2="393.9" y2="60.08" stroke="#000" stroke-width="0.5" />
<line x1="392.7" y1="58.120000000000005" x2="393.9" y2="58.120000000000005" stroke="#000" stroke-width="0.5" />
<line x1="392.7" y1="56.160000000000004" x2="393.9" y2="56.160000000000004" stroke="#000" stroke-width="0.5" />
<line x1="392.7" y1="54.2" x2="393.9" y2="54.2" stroke="#000" stroke-width="0.5" />
<line x1="393.9" y1="93.4" x2="393.9" y2="95.60000000000001" stroke="#000" stroke-width="0.8" />
<text x="392.4" y="105.4" font-size="5.9" font-weight="bold" text-anchor="middle">10<tspan dy="-2.8" font-size="4.2">0</tspan></text>
<line x1="397.92627619200573" y1="93.4" x2="397.92627619200573" y2="94.7" stroke="#000" stroke-width="0.5" />
<line x1="400.2814967818755" y1="93.4" x2="400.2814967818755" y2="94.7" stroke="#000" stroke-width="0.5" />
<line x1="401.9525523840115" y1="93.4" x2="401.9525523840115" y2="94.7" stroke="#000" stroke-width="0.5" />
<line x1="403.2487238079942" y1="93.4" x2="403.2487238079942" y2="94.7" stroke="#000" stroke-width="0.5" />
<line x1="404.3077729738812" y1="93.4" x2="404.3077729738812" y2="94.7" stroke="#000" stroke-width="0.5" />
<line x1="405.20318628519067" y1="93.4" x2="405.20318628519067" y2="94.7" stroke="#000" stroke-width="0.5" />
<line x1="405.97882857601724" y1="93.4" x2="405.97882857601724" y2="94.7" stroke="#000" stroke-width="0.5" />
<line x1="406.66299356375094" y1="93.4" x2="406.66299356375094" y2="94.7" stroke="#000" stroke-width="0.5" />
<line x1="407.275" y1="93.4" x2="407.275" y2="95.60000000000001" stroke="#000" stroke-width="0.8" />
<text x="405.775" y="105.4" font-size="5.9" font-weight="bold" text-anchor="middle">10<tspan dy="-2.8" font-size="4.2">1</tspan></text>
<line x1="411.30127619200573" y1="93.4" x2="411.30127619200573" y2="94.7" stroke="#000" stroke-width="0.5" />
<line x1="413.6564967818755" y1="93.4" x2="413.6564967818755" y2="94.7" stroke="#000" stroke-width="0.5" />
<line x1="415.3275523840115" y1="93.4" x2="415.3275523840115" y2="94.7" stroke="#000" stroke-width="0.5" />
<line x1="416.6237238079942" y1="93.4" x2="416.6237238079942" y2="94.7" stroke="#000" stroke-width="0.5" />
<line x1="417.6827729738812" y1="93.4" x2="417.6827729738812" y2="94.7" stroke="#000" stroke-width="0.5" />
<line x1="418.57818628519067" y1="93.4" x2="418.57818628519067" y2="94.7" stroke="#000" stroke-width="0.5" />
<line x1="419.35382857601724" y1="93.4" x2="419.35382857601724" y2="94.7" stroke="#000" stroke-width="0.5" />
<line x1="420.03799356375094" y1="93.4" x2="420.03799356375094" y2="94.7" stroke="#000" stroke-width="0.5" />
<line x1="420.65" y1="93.4" x2="420.65" y2="95.60000000000001" stroke="#000" stroke-width="0.8" />
<text x="419.15" y="105.4" font-size="5.9" font-weight="bold" text-anchor="middle">10<tspan dy="-2.8" font-size="4.2">2</tspan></text>
<line x1="424.67627619200573" y1="93.4" x2="424.67627619200573" y2="94.7" stroke="#000" stroke-width="0.5" />
<line x1="427.0314967818755" y1="93.4" x2="427.0314967818755" y2="94.7" stroke="#000" stroke-width="0.5" />
<line x1="428.7025523840115" y1="93.4" x2="428.7025523840115" y2="94.7" stroke="#000" stroke-width="0.5" />
<line x1="429.9987238079942" y1="93.4" x2="429.9987238079942" y2="94.7" stroke="#000" stroke-width="0.5" />
<line x1="431.05777297388124" y1="93.4" x2="431.05777297388124" y2="94.7" stroke="#000" stroke-width="0.5" />
<line x1="431.95318628519067" y1="93.4" x2="431.95318628519067" y2="94.7" stroke="#000" stroke-width="0.5" />
<line x1="432.72882857601724" y1="93.4" x2="432.72882857601724" y2="94.7" stroke="#000" stroke-width="0.5" />
<line x1="433.41299356375094" y1="93.4" x2="433.41299356375094" y2="94.7" stroke="#000" stroke-width="0.5" />
<line x1="434.025" y1="93.4" x2="434.025" y2="95.60000000000001" stroke="#000" stroke-width="0.8" />
<text x="432.525" y="105.4" font-size="5.9" font-weight="bold" text-anchor="middle">10<tspan dy="-2.8" font-size="4.2">3</tspan></text>
<line x1="438.05127619200573" y1="93.4" x2="438.05127619200573" y2="94.7" stroke="#000" stroke-width="0.5" />
<line x1="440.4064967818755" y1="93.4" x2="440.4064967818755" y2="94.7" stroke="#000" stroke-width="0.5" />
<line x1="442.0775523840115" y1="93.4" x2="442.0775523840115" y2="94.7" stroke="#000" stroke-width="0.5" />
<line x1="443.3737238079942" y1="93.4" x2="443.3737238079942" y2="94.7" stroke="#000" stroke-width="0.5" />
<line x1="444.43277297388124" y1="93.4" x2="444.43277297388124" y2="94.7" stroke="#000" stroke-width="0.5" />
<line x1="445.32818628519067" y1="93.4" x2="445.32818628519067" y2="94.7" stroke="#000" stroke-width="0.5" />
<line x1="446.10382857601724" y1="93.4" x2="446.10382857601724" y2="94.7" stroke="#000" stroke-width="0.5" />
<line x1="446.78799356375094" y1="93.4" x2="446.78799356375094" y2="94.7" stroke="#000" stroke-width="0.5" />
<line x1="447.4" y1="93.4" x2="447.4" y2="95.60000000000001" stroke="#000" stroke-width="0.8" />
<text x="445.9" y="105.4" font-size="5.9" font-weight="bold" text-anchor="middle">10<tspan dy="-2.8" font-size="4.2">4</tspan></text>
<text x="279.25" y="131.1" font-size="10.4" text-anchor="middle" font-weight="normal" fill="#000" stroke="#000" stroke-width="0.25">NKG2D</text>
<path d="M252.50 174.40 L253.03 174.40 L253.57 174.38 L254.10 174.31 L254.64 174.09 L255.18 173.50 L255.71 172.13 L256.25 169.55 L256.78 165.56 L257.31 160.67 L257.85 156.24 L258.38 153.92 L258.92 154.73 L259.45 158.29 L259.99 163.16 L260.52 167.72 L261.06 171.02 L261.60 172.94 L262.13 173.86 L262.67 174.23 L263.20 174.35 L263.74 174.39 L264.27 174.40 L264.81 174.40 L265.34 174.40 L265.88 174.40 L266.41 174.40 L266.94 174.40 L267.48 174.40 L268.01 174.40 L268.55 174.40 L269.08 174.40 L269.62 174.40 L270.15 174.40 L270.69 174.40 L271.23 174.40 L271.76 174.40 L272.30 174.40 L272.83 174.40 L273.37 174.40 L273.90 174.40 L274.44 174.40 L274.97 174.40 L275.50 174.40 L276.04 174.40 L276.57 174.40 L277.11 174.40 L277.64 174.40 L278.18 174.40 L278.71 174.40 L279.25 174.40 L279.79 174.40 L280.32 174.40 L280.86 174.40 L281.39 174.40 L281.93 174.40 L282.46 174.40 L283.00 174.40 L283.53 174.40 L284.06 174.40 L284.60 174.40 L285.13 174.40 L285.67 174.40 L286.20 174.40 L286.74 174.40 L287.27 174.40 L287.81 174.40 L288.35 174.40 L288.88 174.40 L289.42 174.40 L289.95 174.40 L290.49 174.40 L291.02 174.40 L291.56 174.40 L292.09 174.40 L292.62 174.40 L293.16 174.40 L293.69 174.40 L294.23 174.40 L294.76 174.40 L295.30 174.40 L295.83 174.40 L296.37 174.40 L296.90 174.40 L297.44 174.40 L297.98 174.40 L298.51 174.40 L299.05 174.40 L299.58 174.40 L300.12 174.40 L300.65 174.40 L301.19 174.40 L301.72 174.40 L302.25 174.40 L302.79 174.40 L303.32 174.40 L303.86 174.40 L304.39 174.40 L304.93 174.40 L305.46 174.40 L306.00 174.40 L306.0 174.39999999999998 L252.5 174.39999999999998Z" fill="#c2c2c2" stroke="none"/>
<path d="M252.50 173.95 L253.03 173.64 L253.57 173.12 L254.10 172.32 L254.64 171.11 L255.18 169.36 L255.71 166.93 L256.25 163.71 L256.78 159.71 L257.31 155.11 L257.85 150.44 L258.38 146.85 L258.92 148.16 L259.45 152.05 L259.99 156.39 L260.52 160.51 L261.06 164.09 L261.60 166.99 L262.13 169.23 L262.67 170.90 L263.20 172.09 L263.74 172.91 L264.27 173.46 L264.81 173.82 L265.34 174.05 L265.88 174.19 L266.41 174.28 L266.94 174.33 L267.48 174.36 L268.01 174.38 L268.55 174.39 L269.08 174.39 L269.62 174.40 L270.15 174.40 L270.69 174.40 L271.23 174.40 L271.76 174.40 L272.30 174.40 L272.83 174.40 L273.37 174.40 L273.90 174.40 L274.44 174.40 L274.97 174.40 L275.50 174.40 L276.04 174.40 L276.57 174.40 L277.11 174.40 L277.64 174.40 L278.18 174.40 L278.71 174.40 L279.25 174.40 L279.79 174.40 L280.32 174.40 L280.86 174.40 L281.39 174.40 L281.93 174.40 L282.46 174.40 L283.00 174.40 L283.53 174.40 L284.06 174.40 L284.60 174.40 L285.13 174.40 L285.67 174.40 L286.20 174.40 L286.74 174.40 L287.27 174.40 L287.81 174.40 L288.35 174.40 L288.88 174.40 L289.42 174.40 L289.95 174.40 L290.49 174.40 L291.02 174.40 L291.56 174.40 L292.09 174.40 L292.62 174.40 L293.16 174.40 L293.69 174.40 L294.23 174.40 L294.76 174.40 L295.30 174.40 L295.83 174.40 L296.37 174.40 L296.90 174.40 L297.44 174.40 L297.98 174.40 L298.51 174.40 L299.05 174.40 L299.58 174.40 L300.12 174.40 L300.65 174.40 L301.19 174.40 L301.72 174.40 L302.25 174.40 L302.79 174.40 L303.32 174.40 L303.86 174.40 L304.39 174.40 L304.93 174.40 L305.46 174.40 L306.00 174.40" fill="none" stroke="#000" stroke-width="2.3" stroke-linejoin="round"/>
<rect x="252.5" y="135.2" width="53.5" height="39.2" fill="none" stroke="#000" stroke-width="1"/>
<line x1="252.5" y1="174.39999999999998" x2="306.0" y2="174.39999999999998" stroke="#000" stroke-width="1.6" />
<line x1="252.5" y1="135.2" x2="252.5" y2="174.39999999999998" stroke="#000" stroke-width="1.3" />
<line x1="250.3" y1="174.39999999999998" x2="252.5" y2="174.39999999999998" stroke="#000" stroke-width="0.8" />
<text x="248.9" y="176.49999999999997" font-size="5.6" text-anchor="end" font-weight="bold" fill="#000" >0</text>
<line x1="250.3" y1="164.59999999999997" x2="252.5" y2="164.59999999999997" stroke="#000" stroke-width="0.8" />
<text x="248.9" y="166.69999999999996" font-size="5.6" text-anchor="end" font-weight="bold" fill="#000" >20</text>
<line x1="250.3" y1="154.79999999999998" x2="252.5" y2="154.79999999999998" stroke="#000" stroke-width="0.8" />
<text x="248.9" y="156.89999999999998" font-size="5.6" text-anchor="end" font-weight="bold" fill="#000" >40</text>
<line x1="250.3" y1="144.99999999999997" x2="252.5" y2="144.99999999999997" stroke="#000" stroke-width="0.8" />
<text x="248.9" y="147.09999999999997" font-size="5.6" text-anchor="end" font-weight="bold" fill="#000" >60</text>
<line x1="250.3" y1="135.2" x2="252.5" y2="135.2" stroke="#000" stroke-width="0.8" />
<text x="248.9" y="137.29999999999998" font-size="5.6" text-anchor="end" font-weight="bold" fill="#000" >80</text>
<line x1="251.3" y1="174.39999999999998" x2="252.5" y2="174.39999999999998" stroke="#000" stroke-width="0.5" />
<line x1="251.3" y1="172.43999999999997" x2="252.5" y2="172.43999999999997" stroke="#000" stroke-width="0.5" />
<line x1="251.3" y1="170.48" x2="252.5" y2="170.48" stroke="#000" stroke-width="0.5" />
<line x1="251.3" y1="168.51999999999998" x2="252.5" y2="168.51999999999998" stroke="#000" stroke-width="0.5" />
<line x1="251.3" y1="166.55999999999997" x2="252.5" y2="166.55999999999997" stroke="#000" stroke-width="0.5" />
<line x1="251.3" y1="164.59999999999997" x2="252.5" y2="164.59999999999997" stroke="#000" stroke-width="0.5" />
<line x1="251.3" y1="162.64" x2="252.5" y2="162.64" stroke="#000" stroke-width="0.5" />
<line x1="251.3" y1="160.67999999999998" x2="252.5" y2="160.67999999999998" stroke="#000" stroke-width="0.5" />
<line x1="251.3" y1="158.71999999999997" x2="252.5" y2="158.71999999999997" stroke="#000" stroke-width="0.5" />
<line x1="251.3" y1="156.76" x2="252.5" y2="156.76" stroke="#000" stroke-width="0.5" />
<line x1="251.3" y1="154.79999999999998" x2="252.5" y2="154.79999999999998" stroke="#000" stroke-width="0.5" />
<line x1="251.3" y1="152.83999999999997" x2="252.5" y2="152.83999999999997" stroke="#000" stroke-width="0.5" />
<line x1="251.3" y1="150.87999999999997" x2="252.5" y2="150.87999999999997" stroke="#000" stroke-width="0.5" />
<line x1="251.3" y1="148.92" x2="252.5" y2="148.92" stroke="#000" stroke-width="0.5" />
<line x1="251.3" y1="146.95999999999998" x2="252.5" y2="146.95999999999998" stroke="#000" stroke-width="0.5" />
<line x1="251.3" y1="144.99999999999997" x2="252.5" y2="144.99999999999997" stroke="#000" stroke-width="0.5" />
<line x1="251.3" y1="143.03999999999996" x2="252.5" y2="143.03999999999996" stroke="#000" stroke-width="0.5" />
<line x1="251.3" y1="141.07999999999998" x2="252.5" y2="141.07999999999998" stroke="#000" stroke-width="0.5" />
<line x1="251.3" y1="139.11999999999998" x2="252.5" y2="139.11999999999998" stroke="#000" stroke-width="0.5" />
<line x1="251.3" y1="137.15999999999997" x2="252.5" y2="137.15999999999997" stroke="#000" stroke-width="0.5" />
<line x1="251.3" y1="135.2" x2="252.5" y2="135.2" stroke="#000" stroke-width="0.5" />
<line x1="252.5" y1="174.39999999999998" x2="252.5" y2="176.59999999999997" stroke="#000" stroke-width="0.8" />
<text x="251.0" y="186.39999999999998" font-size="5.9" font-weight="bold" text-anchor="middle">10<tspan dy="-2.8" font-size="4.2">0</tspan></text>
<line x1="256.52627619200575" y1="174.39999999999998" x2="256.52627619200575" y2="175.7" stroke="#000" stroke-width="0.5" />
<line x1="258.8814967818755" y1="174.39999999999998" x2="258.8814967818755" y2="175.7" stroke="#000" stroke-width="0.5" />
<line x1="260.5525523840115" y1="174.39999999999998" x2="260.5525523840115" y2="175.7" stroke="#000" stroke-width="0.5" />
<line x1="261.84872380799425" y1="174.39999999999998" x2="261.84872380799425" y2="175.7" stroke="#000" stroke-width="0.5" />
<line x1="262.9077729738812" y1="174.39999999999998" x2="262.9077729738812" y2="175.7" stroke="#000" stroke-width="0.5" />
<line x1="263.8031862851907" y1="174.39999999999998" x2="263.8031862851907" y2="175.7" stroke="#000" stroke-width="0.5" />
<line x1="264.57882857601726" y1="174.39999999999998" x2="264.57882857601726" y2="175.7" stroke="#000" stroke-width="0.5" />
<line x1="265.26299356375097" y1="174.39999999999998" x2="265.26299356375097" y2="175.7" stroke="#000" stroke-width="0.5" />
<line x1="265.875" y1="174.39999999999998" x2="265.875" y2="176.59999999999997" stroke="#000" stroke-width="0.8" />
<text x="264.375" y="186.39999999999998" font-size="5.9" font-weight="bold" text-anchor="middle">10<tspan dy="-2.8" font-size="4.2">1</tspan></text>
<line x1="269.90127619200575" y1="174.39999999999998" x2="269.90127619200575" y2="175.7" stroke="#000" stroke-width="0.5" />
<line x1="272.2564967818755" y1="174.39999999999998" x2="272.2564967818755" y2="175.7" stroke="#000" stroke-width="0.5" />
<line x1="273.9275523840115" y1="174.39999999999998" x2="273.9275523840115" y2="175.7" stroke="#000" stroke-width="0.5" />
<line x1="275.22372380799425" y1="174.39999999999998" x2="275.22372380799425" y2="175.7" stroke="#000" stroke-width="0.5" />
<line x1="276.2827729738812" y1="174.39999999999998" x2="276.2827729738812" y2="175.7" stroke="#000" stroke-width="0.5" />
<line x1="277.1781862851907" y1="174.39999999999998" x2="277.1781862851907" y2="175.7" stroke="#000" stroke-width="0.5" />
<line x1="277.95382857601726" y1="174.39999999999998" x2="277.95382857601726" y2="175.7" stroke="#000" stroke-width="0.5" />
<line x1="278.63799356375097" y1="174.39999999999998" x2="278.63799356375097" y2="175.7" stroke="#000" stroke-width="0.5" />
<line x1="279.25" y1="174.39999999999998" x2="279.25" y2="176.59999999999997" stroke="#000" stroke-width="0.8" />
<text x="277.75" y="186.39999999999998" font-size="5.9" font-weight="bold" text-anchor="middle">10<tspan dy="-2.8" font-size="4.2">2</tspan></text>
<line x1="283.27627619200575" y1="174.39999999999998" x2="283.27627619200575" y2="175.7" stroke="#000" stroke-width="0.5" />
<line x1="285.6314967818755" y1="174.39999999999998" x2="285.6314967818755" y2="175.7" stroke="#000" stroke-width="0.5" />
<line x1="287.3025523840115" y1="174.39999999999998" x2="287.3025523840115" y2="175.7" stroke="#000" stroke-width="0.5" />
<line x1="288.59872380799425" y1="174.39999999999998" x2="288.59872380799425" y2="175.7" stroke="#000" stroke-width="0.5" />
<line x1="289.65777297388126" y1="174.39999999999998" x2="289.65777297388126" y2="175.7" stroke="#000" stroke-width="0.5" />
<line x1="290.5531862851907" y1="174.39999999999998" x2="290.5531862851907" y2="175.7" stroke="#000" stroke-width="0.5" />
<line x1="291.32882857601726" y1="174.39999999999998" x2="291.32882857601726" y2="175.7" stroke="#000" stroke-width="0.5" />
<line x1="292.01299356375097" y1="174.39999999999998" x2="292.01299356375097" y2="175.7" stroke="#000" stroke-width="0.5" />
<line x1="292.625" y1="174.39999999999998" x2="292.625" y2="176.59999999999997" stroke="#000" stroke-width="0.8" />
<text x="291.125" y="186.39999999999998" font-size="5.9" font-weight="bold" text-anchor="middle">10<tspan dy="-2.8" font-size="4.2">3</tspan></text>
<line x1="296.65127619200575" y1="174.39999999999998" x2="296.65127619200575" y2="175.7" stroke="#000" stroke-width="0.5" />
<line x1="299.0064967818755" y1="174.39999999999998" x2="299.0064967818755" y2="175.7" stroke="#000" stroke-width="0.5" />
<line x1="300.6775523840115" y1="174.39999999999998" x2="300.6775523840115" y2="175.7" stroke="#000" stroke-width="0.5" />
<line x1="301.97372380799425" y1="174.39999999999998" x2="301.97372380799425" y2="175.7" stroke="#000" stroke-width="0.5" />
<line x1="303.03277297388126" y1="174.39999999999998" x2="303.03277297388126" y2="175.7" stroke="#000" stroke-width="0.5" />
<line x1="303.9281862851907" y1="174.39999999999998" x2="303.9281862851907" y2="175.7" stroke="#000" stroke-width="0.5" />
<line x1="304.70382857601726" y1="174.39999999999998" x2="304.70382857601726" y2="175.7" stroke="#000" stroke-width="0.5" />
<line x1="305.38799356375097" y1="174.39999999999998" x2="305.38799356375097" y2="175.7" stroke="#000" stroke-width="0.5" />
<line x1="306.0" y1="174.39999999999998" x2="306.0" y2="176.59999999999997" stroke="#000" stroke-width="0.8" />
<text x="304.5" y="186.39999999999998" font-size="5.9" font-weight="bold" text-anchor="middle">10<tspan dy="-2.8" font-size="4.2">4</tspan></text>
<text x="349.75" y="131.1" font-size="10.4" text-anchor="middle" font-weight="normal" fill="#000" stroke="#000" stroke-width="0.25">DNAM-1</text>
<path d="M323.00 174.40 L323.54 174.40 L324.07 174.38 L324.61 174.33 L325.14 174.15 L325.68 173.61 L326.21 172.24 L326.75 169.40 L327.28 164.54 L327.81 157.81 L328.35 150.62 L328.88 145.36 L329.42 144.07 L329.95 145.17 L330.49 147.59 L331.02 150.99 L331.56 154.95 L332.10 159.02 L332.63 162.82 L333.17 166.10 L333.70 168.74 L334.24 170.73 L334.77 172.13 L335.31 173.07 L335.84 173.65 L336.38 174.00 L336.91 174.20 L337.44 174.30 L337.98 174.36 L338.51 174.38 L339.05 174.39 L339.58 174.40 L340.12 174.40 L340.65 174.40 L341.19 174.40 L341.73 174.40 L342.26 174.40 L342.80 174.40 L343.33 174.40 L343.87 174.40 L344.40 174.40 L344.94 174.40 L345.47 174.40 L346.00 174.40 L346.54 174.40 L347.07 174.40 L347.61 174.40 L348.14 174.40 L348.68 174.40 L349.21 174.40 L349.75 174.40 L350.29 174.40 L350.82 174.40 L351.36 174.40 L351.89 174.40 L352.43 174.40 L352.96 174.40 L353.50 174.40 L354.03 174.40 L354.56 174.40 L355.10 174.40 L355.63 174.40 L356.17 174.40 L356.70 174.40 L357.24 174.40 L357.77 174.40 L358.31 174.40 L358.85 174.40 L359.38 174.40 L359.92 174.40 L360.45 174.40 L360.99 174.40 L361.52 174.40 L362.06 174.40 L362.59 174.40 L363.12 174.40 L363.66 174.40 L364.19 174.40 L364.73 174.40 L365.26 174.40 L365.80 174.40 L366.33 174.40 L366.87 174.40 L367.40 174.40 L367.94 174.40 L368.48 174.40 L369.01 174.40 L369.55 174.40 L370.08 174.40 L370.62 174.40 L371.15 174.40 L371.69 174.40 L372.22 174.40 L372.75 174.40 L373.29 174.40 L373.82 174.40 L374.36 174.40 L374.89 174.40 L375.43 174.40 L375.96 174.40 L376.50 174.40 L376.5 174.39999999999998 L323.0 174.39999999999998Z" fill="#c2c2c2" stroke="none"/>
<path d="M323.00 174.40 L323.54 174.40 L324.07 174.40 L324.61 174.40 L325.14 174.40 L325.68 174.40 L326.21 174.40 L326.75 174.40 L327.28 174.39 L327.81 174.39 L328.35 174.38 L328.88 174.37 L329.42 174.35 L329.95 174.31 L330.49 174.25 L331.02 174.15 L331.56 174.00 L332.10 173.77 L332.63 173.42 L333.17 172.91 L333.70 172.18 L334.24 171.16 L334.77 169.77 L335.31 167.94 L335.84 165.62 L336.38 162.80 L336.91 159.54 L337.44 156.03 L337.98 152.65 L338.51 150.16 L339.05 151.09 L339.58 153.87 L340.12 157.10 L340.65 160.33 L341.19 163.29 L341.73 165.85 L342.26 167.98 L342.80 169.68 L343.33 171.01 L343.87 172.00 L344.40 172.74 L344.94 173.27 L345.47 173.64 L346.00 173.90 L346.54 174.08 L347.07 174.19 L347.61 174.27 L348.14 174.32 L348.68 174.35 L349.21 174.37 L349.75 174.38 L350.29 174.39 L350.82 174.39 L351.36 174.40 L351.89 174.40 L352.43 174.40 L352.96 174.40 L353.50 174.40 L354.03 174.40 L354.56 174.40 L355.10 174.40 L355.63 174.40 L356.17 174.40 L356.70 174.40 L357.24 174.40 L357.77 174.40 L358.31 174.40 L358.85 174.40 L359.38 174.40 L359.92 174.40 L360.45 174.40 L360.99 174.40 L361.52 174.40 L362.06 174.40 L362.59 174.40 L363.12 174.40 L363.66 174.40 L364.19 174.40 L364.73 174.40 L365.26 174.40 L365.80 174.40 L366.33 174.40 L366.87 174.40 L367.40 174.40 L367.94 174.40 L368.48 174.40 L369.01 174.40 L369.55 174.40 L370.08 174.40 L370.62 174.40 L371.15 174.40 L371.69 174.40 L372.22 174.40 L372.75 174.40 L373.29 174.40 L373.82 174.40 L374.36 174.40 L374.89 174.40 L375.43 174.40 L375.96 174.40 L376.50 174.40" fill="none" stroke="#000" stroke-width="2.3" stroke-linejoin="round"/>
<rect x="323.0" y="135.2" width="53.5" height="39.2" fill="none" stroke="#000" stroke-width="1"/>
<line x1="323.0" y1="174.39999999999998" x2="376.5" y2="174.39999999999998" stroke="#000" stroke-width="1.6" />
<line x1="323.0" y1="135.2" x2="323.0" y2="174.39999999999998" stroke="#000" stroke-width="1.3" />
<line x1="320.8" y1="174.39999999999998" x2="323.0" y2="174.39999999999998" stroke="#000" stroke-width="0.8" />
<text x="319.4" y="176.49999999999997" font-size="5.6" text-anchor="end" font-weight="bold" fill="#000" >0</text>
<line x1="320.8" y1="164.59999999999997" x2="323.0" y2="164.59999999999997" stroke="#000" stroke-width="0.8" />
<text x="319.4" y="166.69999999999996" font-size="5.6" text-anchor="end" font-weight="bold" fill="#000" >20</text>
<line x1="320.8" y1="154.79999999999998" x2="323.0" y2="154.79999999999998" stroke="#000" stroke-width="0.8" />
<text x="319.4" y="156.89999999999998" font-size="5.6" text-anchor="end" font-weight="bold" fill="#000" >40</text>
<line x1="320.8" y1="144.99999999999997" x2="323.0" y2="144.99999999999997" stroke="#000" stroke-width="0.8" />
<text x="319.4" y="147.09999999999997" font-size="5.6" text-anchor="end" font-weight="bold" fill="#000" >60</text>
<line x1="320.8" y1="135.2" x2="323.0" y2="135.2" stroke="#000" stroke-width="0.8" />
<text x="319.4" y="137.29999999999998" font-size="5.6" text-anchor="end" font-weight="bold" fill="#000" >80</text>
<line x1="321.8" y1="174.39999999999998" x2="323.0" y2="174.39999999999998" stroke="#000" stroke-width="0.5" />
<line x1="321.8" y1="172.43999999999997" x2="323.0" y2="172.43999999999997" stroke="#000" stroke-width="0.5" />
<line x1="321.8" y1="170.48" x2="323.0" y2="170.48" stroke="#000" stroke-width="0.5" />
<line x1="321.8" y1="168.51999999999998" x2="323.0" y2="168.51999999999998" stroke="#000" stroke-width="0.5" />
<line x1="321.8" y1="166.55999999999997" x2="323.0" y2="166.55999999999997" stroke="#000" stroke-width="0.5" />
<line x1="321.8" y1="164.59999999999997" x2="323.0" y2="164.59999999999997" stroke="#000" stroke-width="0.5" />
<line x1="321.8" y1="162.64" x2="323.0" y2="162.64" stroke="#000" stroke-width="0.5" />
<line x1="321.8" y1="160.67999999999998" x2="323.0" y2="160.67999999999998" stroke="#000" stroke-width="0.5" />
<line x1="321.8" y1="158.71999999999997" x2="323.0" y2="158.71999999999997" stroke="#000" stroke-width="0.5" />
<line x1="321.8" y1="156.76" x2="323.0" y2="156.76" stroke="#000" stroke-width="0.5" />
<line x1="321.8" y1="154.79999999999998" x2="323.0" y2="154.79999999999998" stroke="#000" stroke-width="0.5" />
<line x1="321.8" y1="152.83999999999997" x2="323.0" y2="152.83999999999997" stroke="#000" stroke-width="0.5" />
<line x1="321.8" y1="150.87999999999997" x2="323.0" y2="150.87999999999997" stroke="#000" stroke-width="0.5" />
<line x1="321.8" y1="148.92" x2="323.0" y2="148.92" stroke="#000" stroke-width="0.5" />
<line x1="321.8" y1="146.95999999999998" x2="323.0" y2="146.95999999999998" stroke="#000" stroke-width="0.5" />
<line x1="321.8" y1="144.99999999999997" x2="323.0" y2="144.99999999999997" stroke="#000" stroke-width="0.5" />
<line x1="321.8" y1="143.03999999999996" x2="323.0" y2="143.03999999999996" stroke="#000" stroke-width="0.5" />
<line x1="321.8" y1="141.07999999999998" x2="323.0" y2="141.07999999999998" stroke="#000" stroke-width="0.5" />
<line x1="321.8" y1="139.11999999999998" x2="323.0" y2="139.11999999999998" stroke="#000" stroke-width="0.5" />
<line x1="321.8" y1="137.15999999999997" x2="323.0" y2="137.15999999999997" stroke="#000" stroke-width="0.5" />
<line x1="321.8" y1="135.2" x2="323.0" y2="135.2" stroke="#000" stroke-width="0.5" />
<line x1="323.0" y1="174.39999999999998" x2="323.0" y2="176.59999999999997" stroke="#000" stroke-width="0.8" />
<text x="321.5" y="186.39999999999998" font-size="5.9" font-weight="bold" text-anchor="middle">10<tspan dy="-2.8" font-size="4.2">0</tspan></text>
<line x1="327.02627619200575" y1="174.39999999999998" x2="327.02627619200575" y2="175.7" stroke="#000" stroke-width="0.5" />
<line x1="329.3814967818755" y1="174.39999999999998" x2="329.3814967818755" y2="175.7" stroke="#000" stroke-width="0.5" />
<line x1="331.0525523840115" y1="174.39999999999998" x2="331.0525523840115" y2="175.7" stroke="#000" stroke-width="0.5" />
<line x1="332.34872380799425" y1="174.39999999999998" x2="332.34872380799425" y2="175.7" stroke="#000" stroke-width="0.5" />
<line x1="333.4077729738812" y1="174.39999999999998" x2="333.4077729738812" y2="175.7" stroke="#000" stroke-width="0.5" />
<line x1="334.3031862851907" y1="174.39999999999998" x2="334.3031862851907" y2="175.7" stroke="#000" stroke-width="0.5" />
<line x1="335.07882857601726" y1="174.39999999999998" x2="335.07882857601726" y2="175.7" stroke="#000" stroke-width="0.5" />
<line x1="335.76299356375097" y1="174.39999999999998" x2="335.76299356375097" y2="175.7" stroke="#000" stroke-width="0.5" />
<line x1="336.375" y1="174.39999999999998" x2="336.375" y2="176.59999999999997" stroke="#000" stroke-width="0.8" />
<text x="334.875" y="186.39999999999998" font-size="5.9" font-weight="bold" text-anchor="middle">10<tspan dy="-2.8" font-size="4.2">1</tspan></text>
<line x1="340.40127619200575" y1="174.39999999999998" x2="340.40127619200575" y2="175.7" stroke="#000" stroke-width="0.5" />
<line x1="342.7564967818755" y1="174.39999999999998" x2="342.7564967818755" y2="175.7" stroke="#000" stroke-width="0.5" />
<line x1="344.4275523840115" y1="174.39999999999998" x2="344.4275523840115" y2="175.7" stroke="#000" stroke-width="0.5" />
<line x1="345.72372380799425" y1="174.39999999999998" x2="345.72372380799425" y2="175.7" stroke="#000" stroke-width="0.5" />
<line x1="346.7827729738812" y1="174.39999999999998" x2="346.7827729738812" y2="175.7" stroke="#000" stroke-width="0.5" />
<line x1="347.6781862851907" y1="174.39999999999998" x2="347.6781862851907" y2="175.7" stroke="#000" stroke-width="0.5" />
<line x1="348.45382857601726" y1="174.39999999999998" x2="348.45382857601726" y2="175.7" stroke="#000" stroke-width="0.5" />
<line x1="349.13799356375097" y1="174.39999999999998" x2="349.13799356375097" y2="175.7" stroke="#000" stroke-width="0.5" />
<line x1="349.75" y1="174.39999999999998" x2="349.75" y2="176.59999999999997" stroke="#000" stroke-width="0.8" />
<text x="348.25" y="186.39999999999998" font-size="5.9" font-weight="bold" text-anchor="middle">10<tspan dy="-2.8" font-size="4.2">2</tspan></text>
<line x1="353.77627619200575" y1="174.39999999999998" x2="353.77627619200575" y2="175.7" stroke="#000" stroke-width="0.5" />
<line x1="356.1314967818755" y1="174.39999999999998" x2="356.1314967818755" y2="175.7" stroke="#000" stroke-width="0.5" />
<line x1="357.8025523840115" y1="174.39999999999998" x2="357.8025523840115" y2="175.7" stroke="#000" stroke-width="0.5" />
<line x1="359.09872380799425" y1="174.39999999999998" x2="359.09872380799425" y2="175.7" stroke="#000" stroke-width="0.5" />
<line x1="360.15777297388126" y1="174.39999999999998" x2="360.15777297388126" y2="175.7" stroke="#000" stroke-width="0.5" />
<line x1="361.0531862851907" y1="174.39999999999998" x2="361.0531862851907" y2="175.7" stroke="#000" stroke-width="0.5" />
<line x1="361.82882857601726" y1="174.39999999999998" x2="361.82882857601726" y2="175.7" stroke="#000" stroke-width="0.5" />
<line x1="362.51299356375097" y1="174.39999999999998" x2="362.51299356375097" y2="175.7" stroke="#000" stroke-width="0.5" />
<line x1="363.125" y1="174.39999999999998" x2="363.125" y2="176.59999999999997" stroke="#000" stroke-width="0.8" />
<text x="361.625" y="186.39999999999998" font-size="5.9" font-weight="bold" text-anchor="middle">10<tspan dy="-2.8" font-size="4.2">3</tspan></text>
<line x1="367.15127619200575" y1="174.39999999999998" x2="367.15127619200575" y2="175.7" stroke="#000" stroke-width="0.5" />
<line x1="369.5064967818755" y1="174.39999999999998" x2="369.5064967818755" y2="175.7" stroke="#000" stroke-width="0.5" />
<line x1="371.1775523840115" y1="174.39999999999998" x2="371.1775523840115" y2="175.7" stroke="#000" stroke-width="0.5" />
<line x1="372.47372380799425" y1="174.39999999999998" x2="372.47372380799425" y2="175.7" stroke="#000" stroke-width="0.5" />
<line x1="373.53277297388126" y1="174.39999999999998" x2="373.53277297388126" y2="175.7" stroke="#000" stroke-width="0.5" />
<line x1="374.4281862851907" y1="174.39999999999998" x2="374.4281862851907" y2="175.7" stroke="#000" stroke-width="0.5" />
<line x1="375.20382857601726" y1="174.39999999999998" x2="375.20382857601726" y2="175.7" stroke="#000" stroke-width="0.5" />
<line x1="375.88799356375097" y1="174.39999999999998" x2="375.88799356375097" y2="175.7" stroke="#000" stroke-width="0.5" />
<line x1="376.5" y1="174.39999999999998" x2="376.5" y2="176.59999999999997" stroke="#000" stroke-width="0.8" />
<text x="375.0" y="186.39999999999998" font-size="5.9" font-weight="bold" text-anchor="middle">10<tspan dy="-2.8" font-size="4.2">4</tspan></text>
<text x="420.65" y="131.1" font-size="10.4" text-anchor="middle" font-weight="normal" fill="#000" stroke="#000" stroke-width="0.25">CD16</text>
<path d="M393.90 174.32 L394.44 174.19 L394.97 173.87 L395.50 173.19 L396.04 171.88 L396.57 169.62 L397.11 166.16 L397.64 161.48 L398.18 155.97 L398.71 150.49 L399.25 146.19 L399.78 144.11 L400.32 144.62 L400.85 147.15 L401.39 151.18 L401.92 155.97 L402.46 160.78 L403.00 165.02 L403.53 168.39 L404.06 170.81 L404.60 172.40 L405.13 173.37 L405.67 173.90 L406.20 174.18 L406.74 174.31 L407.27 174.36 L407.81 174.39 L408.34 174.40 L408.88 174.40 L409.41 174.40 L409.95 174.40 L410.48 174.40 L411.02 174.40 L411.55 174.40 L412.09 174.40 L412.62 174.40 L413.16 174.40 L413.69 174.40 L414.23 174.40 L414.76 174.40 L415.30 174.40 L415.83 174.40 L416.37 174.40 L416.90 174.40 L417.44 174.40 L417.97 174.40 L418.51 174.40 L419.04 174.40 L419.58 174.40 L420.11 174.40 L420.65 174.40 L421.19 174.40 L421.72 174.40 L422.25 174.40 L422.79 174.40 L423.32 174.40 L423.86 174.40 L424.39 174.40 L424.93 174.40 L425.46 174.40 L426.00 174.40 L426.53 174.40 L427.07 174.40 L427.60 174.40 L428.14 174.40 L428.67 174.40 L429.21 174.40 L429.75 174.40 L430.28 174.40 L430.81 174.40 L431.35 174.40 L431.88 174.40 L432.42 174.40 L432.95 174.40 L433.49 174.40 L434.02 174.40 L434.56 174.40 L435.09 174.40 L435.63 174.40 L436.16 174.40 L436.70 174.40 L437.23 174.40 L437.77 174.40 L438.30 174.40 L438.84 174.40 L439.38 174.40 L439.91 174.40 L440.44 174.40 L440.98 174.40 L441.51 174.40 L442.05 174.40 L442.58 174.40 L443.12 174.40 L443.65 174.40 L444.19 174.40 L444.72 174.40 L445.26 174.40 L445.79 174.40 L446.33 174.40 L446.86 174.40 L447.40 174.40 L447.4 174.39999999999998 L393.9 174.39999999999998Z" fill="#c2c2c2" stroke="none"/>
<path d="M393.90 174.34 L394.44 174.29 L394.97 174.23 L395.50 174.12 L396.04 173.97 L396.57 173.74 L397.11 173.43 L397.64 173.01 L398.18 172.44 L398.71 171.72 L399.25 170.83 L399.78 169.76 L400.32 168.52 L400.85 167.13 L401.39 165.65 L401.92 164.13 L402.46 162.65 L403.00 161.30 L403.53 160.17 L404.06 159.32 L404.60 158.83 L405.13 158.73 L405.67 158.90 L406.20 159.29 L406.74 159.89 L407.27 160.67 L407.81 161.59 L408.34 162.63 L408.88 163.74 L409.41 164.89 L409.95 166.04 L410.48 167.15 L411.02 168.21 L411.55 169.19 L412.09 170.08 L412.62 170.87 L413.16 171.56 L413.69 172.15 L414.23 172.64 L414.76 173.04 L415.30 173.37 L415.83 173.63 L416.37 173.83 L416.90 173.99 L417.44 174.10 L417.97 174.19 L418.51 174.26 L419.04 174.30 L419.58 174.33 L420.11 174.36 L420.65 174.37 L421.19 174.38 L421.72 174.39 L422.25 174.39 L422.79 174.40 L423.32 174.40 L423.86 174.40 L424.39 174.40 L424.93 174.40 L425.46 174.40 L426.00 174.40 L426.53 174.40 L427.07 174.40 L427.60 174.40 L428.14 174.40 L428.67 174.40 L429.21 174.40 L429.75 174.40 L430.28 174.40 L430.81 174.40 L431.35 174.40 L431.88 174.40 L432.42 174.40 L432.95 174.40 L433.49 174.40 L434.02 174.40 L434.56 174.40 L435.09 174.40 L435.63 174.40 L436.16 174.40 L436.70 174.40 L437.23 174.40 L437.77 174.40 L438.30 174.40 L438.84 174.40 L439.38 174.40 L439.91 174.40 L440.44 174.40 L440.98 174.40 L441.51 174.40 L442.05 174.40 L442.58 174.40 L443.12 174.40 L443.65 174.40 L444.19 174.40 L444.72 174.40 L445.26 174.40 L445.79 174.40 L446.33 174.40 L446.86 174.40 L447.40 174.40" fill="none" stroke="#000" stroke-width="2.3" stroke-linejoin="round"/>
<rect x="393.9" y="135.2" width="53.5" height="39.2" fill="none" stroke="#000" stroke-width="1"/>
<line x1="393.9" y1="174.39999999999998" x2="447.4" y2="174.39999999999998" stroke="#000" stroke-width="1.6" />
<line x1="393.9" y1="135.2" x2="393.9" y2="174.39999999999998" stroke="#000" stroke-width="1.3" />
<line x1="391.7" y1="174.39999999999998" x2="393.9" y2="174.39999999999998" stroke="#000" stroke-width="0.8" />
<text x="390.29999999999995" y="176.49999999999997" font-size="5.6" text-anchor="end" font-weight="bold" fill="#000" >0</text>
<line x1="391.7" y1="164.59999999999997" x2="393.9" y2="164.59999999999997" stroke="#000" stroke-width="0.8" />
<text x="390.29999999999995" y="166.69999999999996" font-size="5.6" text-anchor="end" font-weight="bold" fill="#000" >20</text>
<line x1="391.7" y1="154.79999999999998" x2="393.9" y2="154.79999999999998" stroke="#000" stroke-width="0.8" />
<text x="390.29999999999995" y="156.89999999999998" font-size="5.6" text-anchor="end" font-weight="bold" fill="#000" >40</text>
<line x1="391.7" y1="144.99999999999997" x2="393.9" y2="144.99999999999997" stroke="#000" stroke-width="0.8" />
<text x="390.29999999999995" y="147.09999999999997" font-size="5.6" text-anchor="end" font-weight="bold" fill="#000" >60</text>
<line x1="391.7" y1="135.2" x2="393.9" y2="135.2" stroke="#000" stroke-width="0.8" />
<text x="390.29999999999995" y="137.29999999999998" font-size="5.6" text-anchor="end" font-weight="bold" fill="#000" >80</text>
<line x1="392.7" y1="174.39999999999998" x2="393.9" y2="174.39999999999998" stroke="#000" stroke-width="0.5" />
<line x1="392.7" y1="172.43999999999997" x2="393.9" y2="172.43999999999997" stroke="#000" stroke-width="0.5" />
<line x1="392.7" y1="170.48" x2="393.9" y2="170.48" stroke="#000" stroke-width="0.5" />
<line x1="392.7" y1="168.51999999999998" x2="393.9" y2="168.51999999999998" stroke="#000" stroke-width="0.5" />
<line x1="392.7" y1="166.55999999999997" x2="393.9" y2="166.55999999999997" stroke="#000" stroke-width="0.5" />
<line x1="392.7" y1="164.59999999999997" x2="393.9" y2="164.59999999999997" stroke="#000" stroke-width="0.5" />
<line x1="392.7" y1="162.64" x2="393.9" y2="162.64" stroke="#000" stroke-width="0.5" />
<line x1="392.7" y1="160.67999999999998" x2="393.9" y2="160.67999999999998" stroke="#000" stroke-width="0.5" />
<line x1="392.7" y1="158.71999999999997" x2="393.9" y2="158.71999999999997" stroke="#000" stroke-width="0.5" />
<line x1="392.7" y1="156.76" x2="393.9" y2="156.76" stroke="#000" stroke-width="0.5" />
<line x1="392.7" y1="154.79999999999998" x2="393.9" y2="154.79999999999998" stroke="#000" stroke-width="0.5" />
<line x1="392.7" y1="152.83999999999997" x2="393.9" y2="152.83999999999997" stroke="#000" stroke-width="0.5" />
<line x1="392.7" y1="150.87999999999997" x2="393.9" y2="150.87999999999997" stroke="#000" stroke-width="0.5" />
<line x1="392.7" y1="148.92" x2="393.9" y2="148.92" stroke="#000" stroke-width="0.5" />
<line x1="392.7" y1="146.95999999999998" x2="393.9" y2="146.95999999999998" stroke="#000" stroke-width="0.5" />
<line x1="392.7" y1="144.99999999999997" x2="393.9" y2="144.99999999999997" stroke="#000" stroke-width="0.5" />
<line x1="392.7" y1="143.03999999999996" x2="393.9" y2="143.03999999999996" stroke="#000" stroke-width="0.5" />
<line x1="392.7" y1="141.07999999999998" x2="393.9" y2="141.07999999999998" stroke="#000" stroke-width="0.5" />
<line x1="392.7" y1="139.11999999999998" x2="393.9" y2="139.11999999999998" stroke="#000" stroke-width="0.5" />
<line x1="392.7" y1="137.15999999999997" x2="393.9" y2="137.15999999999997" stroke="#000" stroke-width="0.5" />
<line x1="392.7" y1="135.2" x2="393.9" y2="135.2" stroke="#000" stroke-width="0.5" />
<line x1="393.9" y1="174.39999999999998" x2="393.9" y2="176.59999999999997" stroke="#000" stroke-width="0.8" />
<text x="392.4" y="186.39999999999998" font-size="5.9" font-weight="bold" text-anchor="middle">10<tspan dy="-2.8" font-size="4.2">0</tspan></text>
<line x1="397.92627619200573" y1="174.39999999999998" x2="397.92627619200573" y2="175.7" stroke="#000" stroke-width="0.5" />
<line x1="400.2814967818755" y1="174.39999999999998" x2="400.2814967818755" y2="175.7" stroke="#000" stroke-width="0.5" />
<line x1="401.9525523840115" y1="174.39999999999998" x2="401.9525523840115" y2="175.7" stroke="#000" stroke-width="0.5" />
<line x1="403.2487238079942" y1="174.39999999999998" x2="403.2487238079942" y2="175.7" stroke="#000" stroke-width="0.5" />
<line x1="404.3077729738812" y1="174.39999999999998" x2="404.3077729738812" y2="175.7" stroke="#000" stroke-width="0.5" />
<line x1="405.20318628519067" y1="174.39999999999998" x2="405.20318628519067" y2="175.7" stroke="#000" stroke-width="0.5" />
<line x1="405.97882857601724" y1="174.39999999999998" x2="405.97882857601724" y2="175.7" stroke="#000" stroke-width="0.5" />
<line x1="406.66299356375094" y1="174.39999999999998" x2="406.66299356375094" y2="175.7" stroke="#000" stroke-width="0.5" />
<line x1="407.275" y1="174.39999999999998" x2="407.275" y2="176.59999999999997" stroke="#000" stroke-width="0.8" />
<text x="405.775" y="186.39999999999998" font-size="5.9" font-weight="bold" text-anchor="middle">10<tspan dy="-2.8" font-size="4.2">1</tspan></text>
<line x1="411.30127619200573" y1="174.39999999999998" x2="411.30127619200573" y2="175.7" stroke="#000" stroke-width="0.5" />
<line x1="413.6564967818755" y1="174.39999999999998" x2="413.6564967818755" y2="175.7" stroke="#000" stroke-width="0.5" />
<line x1="415.3275523840115" y1="174.39999999999998" x2="415.3275523840115" y2="175.7" stroke="#000" stroke-width="0.5" />
<line x1="416.6237238079942" y1="174.39999999999998" x2="416.6237238079942" y2="175.7" stroke="#000" stroke-width="0.5" />
<line x1="417.6827729738812" y1="174.39999999999998" x2="417.6827729738812" y2="175.7" stroke="#000" stroke-width="0.5" />
<line x1="418.57818628519067" y1="174.39999999999998" x2="418.57818628519067" y2="175.7" stroke="#000" stroke-width="0.5" />
<line x1="419.35382857601724" y1="174.39999999999998" x2="419.35382857601724" y2="175.7" stroke="#000" stroke-width="0.5" />
<line x1="420.03799356375094" y1="174.39999999999998" x2="420.03799356375094" y2="175.7" stroke="#000" stroke-width="0.5" />
<line x1="420.65" y1="174.39999999999998" x2="420.65" y2="176.59999999999997" stroke="#000" stroke-width="0.8" />
<text x="419.15" y="186.39999999999998" font-size="5.9" font-weight="bold" text-anchor="middle">10<tspan dy="-2.8" font-size="4.2">2</tspan></text>
<line x1="424.67627619200573" y1="174.39999999999998" x2="424.67627619200573" y2="175.7" stroke="#000" stroke-width="0.5" />
<line x1="427.0314967818755" y1="174.39999999999998" x2="427.0314967818755" y2="175.7" stroke="#000" stroke-width="0.5" />
<line x1="428.7025523840115" y1="174.39999999999998" x2="428.7025523840115" y2="175.7" stroke="#000" stroke-width="0.5" />
<line x1="429.9987238079942" y1="174.39999999999998" x2="429.9987238079942" y2="175.7" stroke="#000" stroke-width="0.5" />
<line x1="431.05777297388124" y1="174.39999999999998" x2="431.05777297388124" y2="175.7" stroke="#000" stroke-width="0.5" />
<line x1="431.95318628519067" y1="174.39999999999998" x2="431.95318628519067" y2="175.7" stroke="#000" stroke-width="0.5" />
<line x1="432.72882857601724" y1="174.39999999999998" x2="432.72882857601724" y2="175.7" stroke="#000" stroke-width="0.5" />
<line x1="433.41299356375094" y1="174.39999999999998" x2="433.41299356375094" y2="175.7" stroke="#000" stroke-width="0.5" />
<line x1="434.025" y1="174.39999999999998" x2="434.025" y2="176.59999999999997" stroke="#000" stroke-width="0.8" />
<text x="432.525" y="186.39999999999998" font-size="5.9" font-weight="bold" text-anchor="middle">10<tspan dy="-2.8" font-size="4.2">3</tspan></text>
<line x1="438.05127619200573" y1="174.39999999999998" x2="438.05127619200573" y2="175.7" stroke="#000" stroke-width="0.5" />
<line x1="440.4064967818755" y1="174.39999999999998" x2="440.4064967818755" y2="175.7" stroke="#000" stroke-width="0.5" />
<line x1="442.0775523840115" y1="174.39999999999998" x2="442.0775523840115" y2="175.7" stroke="#000" stroke-width="0.5" />
<line x1="443.3737238079942" y1="174.39999999999998" x2="443.3737238079942" y2="175.7" stroke="#000" stroke-width="0.5" />
<line x1="444.43277297388124" y1="174.39999999999998" x2="444.43277297388124" y2="175.7" stroke="#000" stroke-width="0.5" />
<line x1="445.32818628519067" y1="174.39999999999998" x2="445.32818628519067" y2="175.7" stroke="#000" stroke-width="0.5" />
<line x1="446.10382857601724" y1="174.39999999999998" x2="446.10382857601724" y2="175.7" stroke="#000" stroke-width="0.5" />
<line x1="446.78799356375094" y1="174.39999999999998" x2="446.78799356375094" y2="175.7" stroke="#000" stroke-width="0.5" />
<line x1="447.4" y1="174.39999999999998" x2="447.4" y2="176.59999999999997" stroke="#000" stroke-width="0.8" />
<text x="445.9" y="186.39999999999998" font-size="5.9" font-weight="bold" text-anchor="middle">10<tspan dy="-2.8" font-size="4.2">4</tspan></text>
<text x="491.55" y="131.1" font-size="10.4" text-anchor="middle" font-weight="normal" fill="#000" stroke="#000" stroke-width="0.25">2B4</text>
<path d="M464.80 174.20 L465.34 174.04 L465.87 173.76 L466.41 173.32 L466.94 172.68 L467.48 171.78 L468.01 170.60 L468.55 169.16 L469.08 167.53 L469.62 165.82 L470.15 164.20 L470.69 162.86 L471.22 161.97 L471.75 161.66 L472.29 161.97 L472.82 162.86 L473.36 164.20 L473.90 165.82 L474.43 167.53 L474.97 169.16 L475.50 170.60 L476.04 171.78 L476.57 172.68 L477.11 173.32 L477.64 173.76 L478.18 174.04 L478.71 174.20 L479.25 174.30 L479.78 174.35 L480.31 174.38 L480.85 174.39 L481.38 174.40 L481.92 174.40 L482.46 174.40 L482.99 174.40 L483.53 174.40 L484.06 174.40 L484.60 174.40 L485.13 174.40 L485.67 174.40 L486.20 174.40 L486.74 174.40 L487.27 174.40 L487.81 174.40 L488.34 174.40 L488.88 174.40 L489.41 174.40 L489.94 174.40 L490.48 174.40 L491.01 174.40 L491.55 174.40 L492.09 174.40 L492.62 174.40 L493.16 174.40 L493.69 174.40 L494.23 174.40 L494.76 174.40 L495.30 174.40 L495.83 174.40 L496.37 174.40 L496.90 174.40 L497.44 174.40 L497.97 174.40 L498.50 174.40 L499.04 174.40 L499.57 174.40 L500.11 174.40 L500.64 174.40 L501.18 174.40 L501.72 174.40 L502.25 174.40 L502.79 174.40 L503.32 174.40 L503.86 174.40 L504.39 174.40 L504.93 174.40 L505.46 174.40 L506.00 174.40 L506.53 174.40 L507.06 174.40 L507.60 174.40 L508.13 174.40 L508.67 174.40 L509.21 174.40 L509.74 174.40 L510.28 174.40 L510.81 174.40 L511.35 174.40 L511.88 174.40 L512.41 174.40 L512.95 174.40 L513.49 174.40 L514.02 174.40 L514.56 174.40 L515.09 174.40 L515.62 174.40 L516.16 174.40 L516.70 174.40 L517.23 174.40 L517.76 174.40 L518.30 174.40 L518.3 174.39999999999998 L464.8 174.39999999999998Z" fill="#c2c2c2" stroke="none"/>
<path d="M464.80 174.40 L465.34 174.40 L465.87 174.40 L466.41 174.40 L466.94 174.40 L467.48 174.40 L468.01 174.40 L468.55 174.40 L469.08 174.40 L469.62 174.40 L470.15 174.40 L470.69 174.40 L471.22 174.40 L471.75 174.40 L472.29 174.40 L472.82 174.40 L473.36 174.40 L473.90 174.40 L474.43 174.40 L474.97 174.40 L475.50 174.40 L476.04 174.40 L476.57 174.40 L477.11 174.40 L477.64 174.40 L478.18 174.40 L478.71 174.40 L479.25 174.40 L479.78 174.39 L480.31 174.38 L480.85 174.37 L481.38 174.34 L481.92 174.29 L482.46 174.21 L482.99 174.09 L483.53 173.91 L484.06 173.65 L484.60 173.28 L485.13 172.78 L485.67 172.13 L486.20 171.32 L486.74 170.33 L487.27 169.19 L487.81 167.91 L488.34 166.54 L488.88 165.13 L489.41 163.77 L489.94 162.52 L490.48 161.45 L491.01 160.61 L491.55 160.04 L492.09 159.75 L492.62 159.70 L493.16 159.87 L493.69 160.29 L494.23 161.00 L494.76 161.96 L495.30 163.13 L495.83 164.44 L496.37 165.83 L496.90 167.23 L497.44 168.56 L497.97 169.78 L498.50 170.85 L499.04 171.75 L499.57 172.48 L500.11 173.05 L500.64 173.48 L501.18 173.79 L501.72 174.01 L502.25 174.16 L502.79 174.26 L503.32 174.32 L503.86 174.35 L504.39 174.37 L504.93 174.39 L505.46 174.39 L506.00 174.40 L506.53 174.40 L507.06 174.40 L507.60 174.40 L508.13 174.40 L508.67 174.40 L509.21 174.40 L509.74 174.40 L510.28 174.40 L510.81 174.40 L511.35 174.40 L511.88 174.40 L512.41 174.40 L512.95 174.40 L513.49 174.40 L514.02 174.40 L514.56 174.40 L515.09 174.40 L515.62 174.40 L516.16 174.40 L516.70 174.40 L517.23 174.40 L517.76 174.40 L518.30 174.40" fill="none" stroke="#000" stroke-width="2.3" stroke-linejoin="round"/>
<rect x="464.8" y="135.2" width="53.5" height="39.2" fill="none" stroke="#000" stroke-width="1"/>
<line x1="464.8" y1="174.39999999999998" x2="518.3" y2="174.39999999999998" stroke="#000" stroke-width="1.6" />
<line x1="464.8" y1="135.2" x2="464.8" y2="174.39999999999998" stroke="#000" stroke-width="1.3" />
<line x1="462.6" y1="174.39999999999998" x2="464.8" y2="174.39999999999998" stroke="#000" stroke-width="0.8" />
<text x="461.2" y="176.49999999999997" font-size="5.6" text-anchor="end" font-weight="bold" fill="#000" >0</text>
<line x1="462.6" y1="164.59999999999997" x2="464.8" y2="164.59999999999997" stroke="#000" stroke-width="0.8" />
<text x="461.2" y="166.69999999999996" font-size="5.6" text-anchor="end" font-weight="bold" fill="#000" >20</text>
<line x1="462.6" y1="154.79999999999998" x2="464.8" y2="154.79999999999998" stroke="#000" stroke-width="0.8" />
<text x="461.2" y="156.89999999999998" font-size="5.6" text-anchor="end" font-weight="bold" fill="#000" >40</text>
<line x1="462.6" y1="144.99999999999997" x2="464.8" y2="144.99999999999997" stroke="#000" stroke-width="0.8" />
<text x="461.2" y="147.09999999999997" font-size="5.6" text-anchor="end" font-weight="bold" fill="#000" >60</text>
<line x1="462.6" y1="135.2" x2="464.8" y2="135.2" stroke="#000" stroke-width="0.8" />
<text x="461.2" y="137.29999999999998" font-size="5.6" text-anchor="end" font-weight="bold" fill="#000" >80</text>
<line x1="463.6" y1="174.39999999999998" x2="464.8" y2="174.39999999999998" stroke="#000" stroke-width="0.5" />
<line x1="463.6" y1="172.43999999999997" x2="464.8" y2="172.43999999999997" stroke="#000" stroke-width="0.5" />
<line x1="463.6" y1="170.48" x2="464.8" y2="170.48" stroke="#000" stroke-width="0.5" />
<line x1="463.6" y1="168.51999999999998" x2="464.8" y2="168.51999999999998" stroke="#000" stroke-width="0.5" />
<line x1="463.6" y1="166.55999999999997" x2="464.8" y2="166.55999999999997" stroke="#000" stroke-width="0.5" />
<line x1="463.6" y1="164.59999999999997" x2="464.8" y2="164.59999999999997" stroke="#000" stroke-width="0.5" />
<line x1="463.6" y1="162.64" x2="464.8" y2="162.64" stroke="#000" stroke-width="0.5" />
<line x1="463.6" y1="160.67999999999998" x2="464.8" y2="160.67999999999998" stroke="#000" stroke-width="0.5" />
<line x1="463.6" y1="158.71999999999997" x2="464.8" y2="158.71999999999997" stroke="#000" stroke-width="0.5" />
<line x1="463.6" y1="156.76" x2="464.8" y2="156.76" stroke="#000" stroke-width="0.5" />
<line x1="463.6" y1="154.79999999999998" x2="464.8" y2="154.79999999999998" stroke="#000" stroke-width="0.5" />
<line x1="463.6" y1="152.83999999999997" x2="464.8" y2="152.83999999999997" stroke="#000" stroke-width="0.5" />
<line x1="463.6" y1="150.87999999999997" x2="464.8" y2="150.87999999999997" stroke="#000" stroke-width="0.5" />
<line x1="463.6" y1="148.92" x2="464.8" y2="148.92" stroke="#000" stroke-width="0.5" />
<line x1="463.6" y1="146.95999999999998" x2="464.8" y2="146.95999999999998" stroke="#000" stroke-width="0.5" />
<line x1="463.6" y1="144.99999999999997" x2="464.8" y2="144.99999999999997" stroke="#000" stroke-width="0.5" />
<line x1="463.6" y1="143.03999999999996" x2="464.8" y2="143.03999999999996" stroke="#000" stroke-width="0.5" />
<line x1="463.6" y1="141.07999999999998" x2="464.8" y2="141.07999999999998" stroke="#000" stroke-width="0.5" />
<line x1="463.6" y1="139.11999999999998" x2="464.8" y2="139.11999999999998" stroke="#000" stroke-width="0.5" />
<line x1="463.6" y1="137.15999999999997" x2="464.8" y2="137.15999999999997" stroke="#000" stroke-width="0.5" />
<line x1="463.6" y1="135.2" x2="464.8" y2="135.2" stroke="#000" stroke-width="0.5" />
<line x1="464.8" y1="174.39999999999998" x2="464.8" y2="176.59999999999997" stroke="#000" stroke-width="0.8" />
<text x="463.3" y="186.39999999999998" font-size="5.9" font-weight="bold" text-anchor="middle">10<tspan dy="-2.8" font-size="4.2">0</tspan></text>
<line x1="468.82627619200576" y1="174.39999999999998" x2="468.82627619200576" y2="175.7" stroke="#000" stroke-width="0.5" />
<line x1="471.1814967818755" y1="174.39999999999998" x2="471.1814967818755" y2="175.7" stroke="#000" stroke-width="0.5" />
<line x1="472.8525523840115" y1="174.39999999999998" x2="472.8525523840115" y2="175.7" stroke="#000" stroke-width="0.5" />
<line x1="474.14872380799426" y1="174.39999999999998" x2="474.14872380799426" y2="175.7" stroke="#000" stroke-width="0.5" />
<line x1="475.2077729738812" y1="174.39999999999998" x2="475.2077729738812" y2="175.7" stroke="#000" stroke-width="0.5" />
<line x1="476.1031862851907" y1="174.39999999999998" x2="476.1031862851907" y2="175.7" stroke="#000" stroke-width="0.5" />
<line x1="476.87882857601727" y1="174.39999999999998" x2="476.87882857601727" y2="175.7" stroke="#000" stroke-width="0.5" />
<line x1="477.562993563751" y1="174.39999999999998" x2="477.562993563751" y2="175.7" stroke="#000" stroke-width="0.5" />
<line x1="478.175" y1="174.39999999999998" x2="478.175" y2="176.59999999999997" stroke="#000" stroke-width="0.8" />
<text x="476.675" y="186.39999999999998" font-size="5.9" font-weight="bold" text-anchor="middle">10<tspan dy="-2.8" font-size="4.2">1</tspan></text>
<line x1="482.20127619200576" y1="174.39999999999998" x2="482.20127619200576" y2="175.7" stroke="#000" stroke-width="0.5" />
<line x1="484.55649678187547" y1="174.39999999999998" x2="484.55649678187547" y2="175.7" stroke="#000" stroke-width="0.5" />
<line x1="486.2275523840115" y1="174.39999999999998" x2="486.2275523840115" y2="175.7" stroke="#000" stroke-width="0.5" />
<line x1="487.52372380799426" y1="174.39999999999998" x2="487.52372380799426" y2="175.7" stroke="#000" stroke-width="0.5" />
<line x1="488.5827729738812" y1="174.39999999999998" x2="488.5827729738812" y2="175.7" stroke="#000" stroke-width="0.5" />
<line x1="489.4781862851907" y1="174.39999999999998" x2="489.4781862851907" y2="175.7" stroke="#000" stroke-width="0.5" />
<line x1="490.25382857601727" y1="174.39999999999998" x2="490.25382857601727" y2="175.7" stroke="#000" stroke-width="0.5" />
<line x1="490.937993563751" y1="174.39999999999998" x2="490.937993563751" y2="175.7" stroke="#000" stroke-width="0.5" />
<line x1="491.55" y1="174.39999999999998" x2="491.55" y2="176.59999999999997" stroke="#000" stroke-width="0.8" />
<text x="490.05" y="186.39999999999998" font-size="5.9" font-weight="bold" text-anchor="middle">10<tspan dy="-2.8" font-size="4.2">2</tspan></text>
<line x1="495.57627619200576" y1="174.39999999999998" x2="495.57627619200576" y2="175.7" stroke="#000" stroke-width="0.5" />
<line x1="497.93149678187547" y1="174.39999999999998" x2="497.93149678187547" y2="175.7" stroke="#000" stroke-width="0.5" />
<line x1="499.6025523840115" y1="174.39999999999998" x2="499.6025523840115" y2="175.7" stroke="#000" stroke-width="0.5" />
<line x1="500.89872380799426" y1="174.39999999999998" x2="500.89872380799426" y2="175.7" stroke="#000" stroke-width="0.5" />
<line x1="501.9577729738812" y1="174.39999999999998" x2="501.9577729738812" y2="175.7" stroke="#000" stroke-width="0.5" />
<line x1="502.8531862851907" y1="174.39999999999998" x2="502.8531862851907" y2="175.7" stroke="#000" stroke-width="0.5" />
<line x1="503.62882857601727" y1="174.39999999999998" x2="503.62882857601727" y2="175.7" stroke="#000" stroke-width="0.5" />
<line x1="504.312993563751" y1="174.39999999999998" x2="504.312993563751" y2="175.7" stroke="#000" stroke-width="0.5" />
<line x1="504.925" y1="174.39999999999998" x2="504.925" y2="176.59999999999997" stroke="#000" stroke-width="0.8" />
<text x="503.425" y="186.39999999999998" font-size="5.9" font-weight="bold" text-anchor="middle">10<tspan dy="-2.8" font-size="4.2">3</tspan></text>
<line x1="508.95127619200576" y1="174.39999999999998" x2="508.95127619200576" y2="175.7" stroke="#000" stroke-width="0.5" />
<line x1="511.30649678187547" y1="174.39999999999998" x2="511.30649678187547" y2="175.7" stroke="#000" stroke-width="0.5" />
<line x1="512.9775523840115" y1="174.39999999999998" x2="512.9775523840115" y2="175.7" stroke="#000" stroke-width="0.5" />
<line x1="514.2737238079942" y1="174.39999999999998" x2="514.2737238079942" y2="175.7" stroke="#000" stroke-width="0.5" />
<line x1="515.3327729738812" y1="174.39999999999998" x2="515.3327729738812" y2="175.7" stroke="#000" stroke-width="0.5" />
<line x1="516.2281862851906" y1="174.39999999999998" x2="516.2281862851906" y2="175.7" stroke="#000" stroke-width="0.5" />
<line x1="517.0038285760172" y1="174.39999999999998" x2="517.0038285760172" y2="175.7" stroke="#000" stroke-width="0.5" />
<line x1="517.687993563751" y1="174.39999999999998" x2="517.687993563751" y2="175.7" stroke="#000" stroke-width="0.5" />
<line x1="518.3" y1="174.39999999999998" x2="518.3" y2="176.59999999999997" stroke="#000" stroke-width="0.8" />
<text x="516.8" y="186.39999999999998" font-size="5.9" font-weight="bold" text-anchor="middle">10<tspan dy="-2.8" font-size="4.2">4</tspan></text>
<text x="2" y="217.5" font-size="11.5" text-anchor="start" font-weight="bold" fill="#000" >C</text>
<line x1="36.3" y1="232.56000000000003" x2="36.3" y2="353.6" stroke="#777" stroke-width="1" />
<line x1="33.3" y1="353.6" x2="36.3" y2="353.6" stroke="#777" stroke-width="1" />
<text x="26.4" y="357.3" font-size="10.4" text-anchor="end" font-weight="normal" fill="#222" stroke="#222" stroke-width="0.15">0</text>
<line x1="33.3" y1="338.47" x2="36.3" y2="338.47" stroke="#777" stroke-width="1" />
<text x="26.4" y="342.17" font-size="10.4" text-anchor="end" font-weight="normal" fill="#222" stroke="#222" stroke-width="0.15">10</text>
<line x1="33.3" y1="323.34000000000003" x2="36.3" y2="323.34000000000003" stroke="#777" stroke-width="1" />
<text x="26.4" y="327.04" font-size="10.4" text-anchor="end" font-weight="normal" fill="#222" stroke="#222" stroke-width="0.15">20</text>
<line x1="33.3" y1="308.21000000000004" x2="36.3" y2="308.21000000000004" stroke="#777" stroke-width="1" />
<text x="26.4" y="311.91" font-size="10.4" text-anchor="end" font-weight="normal" fill="#222" stroke="#222" stroke-width="0.15">30</text>
<line x1="33.3" y1="293.08000000000004" x2="36.3" y2="293.08000000000004" stroke="#777" stroke-width="1" />
<text x="26.4" y="296.78000000000003" font-size="10.4" text-anchor="end" font-weight="normal" fill="#222" stroke="#222" stroke-width="0.15">40</text>
<line x1="33.3" y1="277.95000000000005" x2="36.3" y2="277.95000000000005" stroke="#777" stroke-width="1" />
<text x="26.4" y="281.65000000000003" font-size="10.4" text-anchor="end" font-weight="normal" fill="#222" stroke="#222" stroke-width="0.15">50</text>
<line x1="33.3" y1="262.82000000000005" x2="36.3" y2="262.82000000000005" stroke="#777" stroke-width="1" />
<text x="26.4" y="266.52000000000004" font-size="10.4" text-anchor="end" font-weight="normal" fill="#222" stroke="#222" stroke-width="0.15">60</text>
<line x1="33.3" y1="247.69000000000003" x2="36.3" y2="247.69000000000003" stroke="#777" stroke-width="1" />
<text x="26.4" y="251.39000000000001" font-size="10.4" text-anchor="end" font-weight="normal" fill="#222" stroke="#222" stroke-width="0.15">70</text>
<line x1="33.3" y1="232.56000000000003" x2="36.3" y2="232.56000000000003" stroke="#777" stroke-width="1" />
<text x="26.4" y="236.26000000000002" font-size="10.4" text-anchor="end" font-weight="normal" fill="#222" stroke="#222" stroke-width="0.15">80</text>
<line x1="36.3" y1="353.6" x2="163.5" y2="353.6" stroke="#777" stroke-width="1" />
<line x1="36.3" y1="353.6" x2="36.3" y2="356.6" stroke="#777" stroke-width="1" />
<line x1="68" y1="353.6" x2="68" y2="356.6" stroke="#777" stroke-width="1" />
<line x1="100" y1="353.6" x2="100" y2="356.6" stroke="#777" stroke-width="1" />
<line x1="131.8" y1="353.6" x2="131.8" y2="356.6" stroke="#777" stroke-width="1" />
<line x1="163.5" y1="353.6" x2="163.5" y2="356.6" stroke="#777" stroke-width="1" />
<text x="52" y="370" font-size="10.2" text-anchor="middle" font-weight="normal" fill="#222" stroke="#222" stroke-width="0.15">20:1</text>
<text x="84" y="370" font-size="10.2" text-anchor="middle" font-weight="normal" fill="#222" stroke="#222" stroke-width="0.15">10:1</text>
<text x="116" y="370" font-size="10.2" text-anchor="middle" font-weight="normal" fill="#222" stroke="#222" stroke-width="0.15">5:1</text>
<text x="148" y="370" font-size="10.2" text-anchor="middle" font-weight="normal" fill="#222" stroke="#222" stroke-width="0.15">2.5:1</text>
<text x="104" y="381.8" font-size="10.2" text-anchor="middle" font-weight="normal" fill="#222" stroke="#222" stroke-width="0.15">E:T</text>
<text transform="translate(8.3,296.8) rotate(-90)" font-size="10.6" stroke="#000" stroke-width="0.3" text-anchor="middle" fill="#000">% Specific killing</text>
<polyline points="52 334.99 84 338.02 116 344.07 148 346.04" fill="none" stroke="#222" stroke-width="1.2"/>
<polyline points="52 320.31 84 333.02 116 340.74 148 346.79" fill="none" stroke="#333" stroke-width="1.2"/>
<polyline points="52 325.76 84 321.22 116 338.47 148 345.28" fill="none" stroke="#111" stroke-width="1.2"/>
<polyline points="52 315.17 84 327.88 116 335.44 148 343.77" fill="none" stroke="#000" stroke-width="1.2"/>
<polyline points="52 353.60 84 353.60 116 336.96 148 344.98" fill="none" stroke="#333" stroke-width="1.2"/>
<polyline points="52 251.02 84 272.65 116 307.60 148 326.67" fill="none" stroke="#000" stroke-width="1.2"/>
<line x1="52" y1="245.42050000000003" x2="52" y2="256.76800000000003" stroke="#444" stroke-width="1" />
<line x1="49.8" y1="245.42050000000003" x2="54.2" y2="245.42050000000003" stroke="#444" stroke-width="1" />
<line x1="49.8" y1="256.76800000000003" x2="54.2" y2="256.76800000000003" stroke="#444" stroke-width="1" />
<line x1="84" y1="259.79400000000004" x2="84" y2="285.51500000000004" stroke="#444" stroke-width="1" />
<line x1="81.8" y1="259.79400000000004" x2="86.2" y2="259.79400000000004" stroke="#444" stroke-width="1" />
<line x1="81.8" y1="285.51500000000004" x2="86.2" y2="285.51500000000004" stroke="#444" stroke-width="1" />
<line x1="116" y1="302.158" x2="116" y2="313.50550000000004" stroke="#555" stroke-width="1" />
<line x1="113.8" y1="302.158" x2="118.2" y2="302.158" stroke="#555" stroke-width="1" />
<line x1="113.8" y1="313.50550000000004" x2="118.2" y2="313.50550000000004" stroke="#555" stroke-width="1" />
<line x1="116" y1="330.90500000000003" x2="116" y2="350.574" stroke="#555" stroke-width="1" />
<line x1="113.8" y1="330.90500000000003" x2="118.2" y2="330.90500000000003" stroke="#555" stroke-width="1" />
<line x1="113.8" y1="350.574" x2="118.2" y2="350.574" stroke="#555" stroke-width="1" />
<line x1="148" y1="338.47" x2="148" y2="349.06100000000004" stroke="#555" stroke-width="1" />
<line x1="145.8" y1="338.47" x2="150.2" y2="338.47" stroke="#555" stroke-width="1" />
<line x1="145.8" y1="349.06100000000004" x2="150.2" y2="349.06100000000004" stroke="#555" stroke-width="1" />
<line x1="52" y1="347.548" x2="52" y2="353.6" stroke="#555" stroke-width="1" />
<line x1="49.8" y1="347.548" x2="54.2" y2="347.548" stroke="#555" stroke-width="1" />
<line x1="49.8" y1="353.6" x2="54.2" y2="353.6" stroke="#555" stroke-width="1" />
<path d="M52 332.29010000000005L54.7 334.99010000000004L52 337.69010000000003L49.3 334.99010000000004Z" fill="#fff" stroke="#222" stroke-width="1.1"/>
<path d="M84 335.31610000000006L86.7 338.01610000000005L84 340.71610000000004L81.3 338.01610000000005Z" fill="#fff" stroke="#222" stroke-width="1.1"/>
<path d="M116 341.3681L118.7 344.0681L116 346.7681L113.3 344.0681Z" fill="#fff" stroke="#222" stroke-width="1.1"/>
<path d="M148 343.33500000000004L150.7 346.035L148 348.735L145.3 346.035Z" fill="#fff" stroke="#222" stroke-width="1.1"/>
<path d="M52 318.014L54.3 320.314L52 322.61400000000003L49.7 320.314Z" fill="#777" stroke="#555" stroke-width="1.1"/>
<path d="M84 330.7232L86.3 333.02320000000003L84 335.32320000000004L81.7 333.02320000000003Z" fill="#777" stroke="#555" stroke-width="1.1"/>
<path d="M116 338.4395L118.3 340.7395L116 343.03950000000003L113.7 340.7395Z" fill="#777" stroke="#555" stroke-width="1.1"/>
<path d="M148 344.49150000000003L150.3 346.79150000000004L148 349.09150000000005L145.7 346.79150000000004Z" fill="#777" stroke="#555" stroke-width="1.1"/>
<rect x="49.0" y="322.7608" width="6.0" height="6.0" fill="#fff" stroke="#333" stroke-width="1.1"/>
<rect x="81.0" y="318.22180000000003" width="6.0" height="6.0" fill="#fff" stroke="#333" stroke-width="1.1"/>
<rect x="113.0" y="335.47" width="6.0" height="6.0" fill="#fff" stroke="#333" stroke-width="1.1"/>
<rect x="145.0" y="342.2785" width="6.0" height="6.0" fill="#fff" stroke="#333" stroke-width="1.1"/>
<path d="M52 312.3698L54.8 317.4098L49.2 317.4098Z" fill="#000" stroke="#000" stroke-width="1.1"/>
<path d="M84 325.079L86.8 330.119L81.2 330.119Z" fill="#000" stroke="#000" stroke-width="1.1"/>
<path d="M116 332.644L118.8 337.684L113.2 337.684Z" fill="#000" stroke="#000" stroke-width="1.1"/>
<path d="M148 340.9655L150.8 346.00550000000004L145.2 346.00550000000004Z" fill="#000" stroke="#000" stroke-width="1.1"/>
<rect x="49.0" y="350.6" width="6.0" height="6.0" fill="#777" stroke="#333" stroke-width="1.1"/>
<rect x="81.0" y="350.6" width="6.0" height="6.0" fill="#777" stroke="#333" stroke-width="1.1"/>
<rect x="113.0" y="333.957" width="6.0" height="6.0" fill="#777" stroke="#333" stroke-width="1.1"/>
<rect x="145.0" y="341.9759" width="6.0" height="6.0" fill="#777" stroke="#333" stroke-width="1.1"/>
<circle cx="52" cy="251.01860000000005" r="3.6" fill="#000" stroke="#000" stroke-width="1.1"/>
<circle cx="84" cy="272.65450000000004" r="3.6" fill="#000" stroke="#000" stroke-width="1.1"/>
<circle cx="116" cy="307.6048" r="3.6" fill="#000" stroke="#000" stroke-width="1.1"/>
<circle cx="148" cy="326.6686" r="3.6" fill="#000" stroke="#000" stroke-width="1.1"/>
<polygon points="47.90,236.80 48.55,238.31 50.18,238.46 48.95,239.54 49.31,241.14 47.90,240.30 46.49,241.14 46.85,239.54 45.62,238.46 47.25,238.31" fill="#000" stroke="#000" stroke-width="0.5" stroke-linejoin="round"/>
<polygon points="52.60,236.80 53.25,238.31 54.88,238.46 53.65,239.54 54.01,241.14 52.60,240.30 51.19,241.14 51.55,239.54 50.32,238.46 51.95,238.31" fill="#000" stroke="#000" stroke-width="0.5" stroke-linejoin="round"/>
<polygon points="57.30,236.80 57.95,238.31 59.58,238.46 58.35,239.54 58.71,241.14 57.30,240.30 55.89,241.14 56.25,239.54 55.02,238.46 56.65,238.31" fill="#000" stroke="#000" stroke-width="0.5" stroke-linejoin="round"/>
<polygon points="82.35,251.80 83.00,253.31 84.63,253.46 83.40,254.54 83.76,256.14 82.35,255.30 80.94,256.14 81.30,254.54 80.07,253.46 81.70,253.31" fill="#000" stroke="#000" stroke-width="0.5" stroke-linejoin="round"/>
<polygon points="87.05,251.80 87.70,253.31 89.33,253.46 88.10,254.54 88.46,256.14 87.05,255.30 85.64,256.14 86.00,254.54 84.77,253.46 86.40,253.31" fill="#000" stroke="#000" stroke-width="0.5" stroke-linejoin="round"/>
<polygon points="116.00,294.60 116.65,296.11 118.28,296.26 117.05,297.34 117.41,298.94 116.00,298.10 114.59,298.94 114.95,297.34 113.72,296.26 115.35,296.11" fill="#000" stroke="#000" stroke-width="0.5" stroke-linejoin="round"/>
<polygon points="142.70,315.90 143.35,317.41 144.98,317.56 143.75,318.64 144.11,320.24 142.70,319.40 141.29,320.24 141.65,318.64 140.42,317.56 142.05,317.41" fill="#000" stroke="#000" stroke-width="0.5" stroke-linejoin="round"/>
<polygon points="147.40,315.90 148.05,317.41 149.68,317.56 148.45,318.64 148.81,320.24 147.40,319.40 145.99,320.24 146.35,318.64 145.12,317.56 146.75,317.41" fill="#000" stroke="#000" stroke-width="0.5" stroke-linejoin="round"/>
<polygon points="152.10,315.90 152.75,317.41 154.38,317.56 153.15,318.64 153.51,320.24 152.10,319.40 150.69,320.24 151.05,318.64 149.82,317.56 151.45,317.41" fill="#000" stroke="#000" stroke-width="0.5" stroke-linejoin="round"/>
<line x1="101.6" y1="217.9" x2="119.1" y2="217.9" stroke="#111" stroke-width="1.2" />
<rect x="108.3" y="215.70000000000002" width="4.4" height="4.4" fill="#fff" stroke="#888" stroke-width="1"/>
<text x="120.9" y="221.1" font-size="8.75" text-anchor="start" font-weight="normal" fill="#111" >DNAM-1</text>
<line x1="101.6" y1="227.68" x2="119.1" y2="227.68" stroke="#666" stroke-width="1.2" />
<rect x="108.3" y="225.48000000000002" width="4.4" height="4.4" fill="#666" stroke="#444" stroke-width="1"/>
<text x="120.9" y="230.88" font-size="8.75" text-anchor="start" font-weight="normal" fill="#111" >NKp30</text>
<line x1="101.6" y1="237.46" x2="119.1" y2="237.46" stroke="#777" stroke-width="1.2" />
<path d="M110.5 235.86L112.1 237.46L110.5 239.06L108.9 237.46Z" fill="#fff" stroke="#999" stroke-width="1"/>
<text x="120.9" y="240.66" font-size="8.75" text-anchor="start" font-weight="normal" fill="#111" >NKp46</text>
<line x1="101.6" y1="247.24" x2="119.1" y2="247.24" stroke="#222" stroke-width="1.2" />
<path d="M110.5 245.34L112.4 248.76000000000002L108.6 248.76000000000002Z" fill="#000" stroke="#000" stroke-width="1"/>
<text x="120.9" y="250.44" font-size="8.75" text-anchor="start" font-weight="normal" fill="#111" >CD16</text>
<line x1="101.6" y1="257.02" x2="119.1" y2="257.02" stroke="#777" stroke-width="1.2" />
<path d="M110.5 255.42L112.1 257.02L110.5 258.62L108.9 257.02Z" fill="#999" stroke="#888" stroke-width="1"/>
<text x="120.9" y="260.21999999999997" font-size="8.75" text-anchor="start" font-weight="normal" fill="#111" >Control Ab</text>
<line x1="101.6" y1="266.8" x2="119.1" y2="266.8" stroke="#111" stroke-width="1.2" />
<circle cx="110.5" cy="266.8" r="2.3" fill="#000" stroke="#000" stroke-width="1"/>
<text x="120.9" y="270.0" font-size="8.75" text-anchor="start" font-weight="normal" fill="#111" >2B4</text>
<text x="178.8" y="218" font-size="11.5" text-anchor="start" font-weight="bold" fill="#000" >D</text>
<line x1="215.3" y1="232.5" x2="215.3" y2="352.5" stroke="#777" stroke-width="1" />
<line x1="212.3" y1="352.5" x2="215.3" y2="352.5" stroke="#777" stroke-width="1" />
<text x="207.4" y="356.2" font-size="10.4" text-anchor="end" font-weight="normal" fill="#222" stroke="#222" stroke-width="0.15">0</text>
<line x1="212.3" y1="328.5" x2="215.3" y2="328.5" stroke="#777" stroke-width="1" />
<text x="207.4" y="332.2" font-size="10.4" text-anchor="end" font-weight="normal" fill="#222" stroke="#222" stroke-width="0.15">5</text>
<line x1="212.3" y1="304.5" x2="215.3" y2="304.5" stroke="#777" stroke-width="1" />
<text x="207.4" y="308.2" font-size="10.4" text-anchor="end" font-weight="normal" fill="#222" stroke="#222" stroke-width="0.15">10</text>
<line x1="212.3" y1="280.5" x2="215.3" y2="280.5" stroke="#777" stroke-width="1" />
<text x="207.4" y="284.2" font-size="10.4" text-anchor="end" font-weight="normal" fill="#222" stroke="#222" stroke-width="0.15">15</text>
<line x1="212.3" y1="256.5" x2="215.3" y2="256.5" stroke="#777" stroke-width="1" />
<text x="207.4" y="260.2" font-size="10.4" text-anchor="end" font-weight="normal" fill="#222" stroke="#222" stroke-width="0.15">20</text>
<line x1="212.3" y1="232.5" x2="215.3" y2="232.5" stroke="#777" stroke-width="1" />
<text x="207.4" y="236.2" font-size="10.4" text-anchor="end" font-weight="normal" fill="#222" stroke="#222" stroke-width="0.15">25</text>
<line x1="215.3" y1="352.5" x2="342.5" y2="352.5" stroke="#777" stroke-width="1" />
<line x1="215.3" y1="352.5" x2="215.3" y2="355.5" stroke="#777" stroke-width="1" />
<line x1="279" y1="352.5" x2="279" y2="355.5" stroke="#777" stroke-width="1" />
<line x1="342.5" y1="352.5" x2="342.5" y2="355.5" stroke="#777" stroke-width="1" />
<text x="247.8" y="368.8" font-size="10.2" text-anchor="middle" font-weight="normal" fill="#222" stroke="#222" stroke-width="0.15">150:1</text>
<text x="310.8" y="368.8" font-size="10.2" text-anchor="middle" font-weight="normal" fill="#222" stroke="#222" stroke-width="0.15">50:1</text>
<text x="278" y="381" font-size="10.2" text-anchor="middle" font-weight="normal" fill="#222" stroke="#222" stroke-width="0.15">E:T</text>
<text transform="translate(188.6,297) rotate(-90)" font-size="10.6" stroke="#000" stroke-width="0.3" text-anchor="middle" fill="#000">% Specific killing</text>
<line x1="247.5" y1="242.10000000000002" x2="310.6" y2="292.02" stroke="#000" stroke-width="1.2" />
<line x1="247.5" y1="292.02" x2="310.6" y2="352.5" stroke="#000" stroke-width="1.2" />
<line x1="247.5" y1="306.42" x2="310.6" y2="329.46" stroke="#000" stroke-width="1.2" />
<line x1="310.6" y1="282.9" x2="310.6" y2="300.65999999999997" stroke="#333" stroke-width="1" />
<line x1="308.40000000000003" y1="282.9" x2="312.8" y2="282.9" stroke="#333" stroke-width="1" />
<line x1="308.40000000000003" y1="300.65999999999997" x2="312.8" y2="300.65999999999997" stroke="#333" stroke-width="1" />
<line x1="310.6" y1="319.38" x2="310.6" y2="339.54" stroke="#333" stroke-width="1" />
<line x1="308.40000000000003" y1="319.38" x2="312.8" y2="319.38" stroke="#333" stroke-width="1" />
<line x1="308.40000000000003" y1="339.54" x2="312.8" y2="339.54" stroke="#333" stroke-width="1" />
<line x1="247.5" y1="286.26" x2="247.5" y2="297.3" stroke="#333" stroke-width="1" />
<line x1="245.5" y1="286.26" x2="249.5" y2="286.26" stroke="#333" stroke-width="1" />
<line x1="245.5" y1="297.3" x2="249.5" y2="297.3" stroke="#333" stroke-width="1" />
<line x1="247.5" y1="300.18" x2="247.5" y2="311.7" stroke="#333" stroke-width="1" />
<line x1="245.5" y1="300.18" x2="249.5" y2="300.18" stroke="#333" stroke-width="1" />
<line x1="245.5" y1="311.7" x2="249.5" y2="311.7" stroke="#333" stroke-width="1" />
<path d="M247.5 238.3L251.3 242.10000000000002L247.5 245.90000000000003L243.7 242.10000000000002Z" fill="#fff" stroke="#000" stroke-width="1.1"/>
<path d="M310.6 288.21999999999997L314.40000000000003 292.02L310.6 295.82L306.8 292.02Z" fill="#fff" stroke="#000" stroke-width="1.1"/>
<path d="M247.5 288.41999999999996L251.1 294.9L243.9 294.9Z" fill="#000" stroke="#000" stroke-width="1"/>
<path d="M310.6 347.46L314.20000000000005 353.94L307.0 353.94Z" fill="#000" stroke="#000" stroke-width="1"/>
<rect x="244.1" y="303.02000000000004" width="6.8" height="6.8" fill="#000" stroke="#000" stroke-width="1"/>
<rect x="307.20000000000005" y="326.06" width="6.8" height="6.8" fill="#000" stroke="#000" stroke-width="1"/>
<polygon points="245.30,280.10 245.95,281.41 247.39,281.62 246.35,282.64 246.59,284.08 245.30,283.40 244.01,284.08 244.25,282.64 243.21,281.62 244.65,281.41" fill="#000" stroke="#000" stroke-width="0.5" stroke-linejoin="round"/>
<polygon points="249.70,280.10 250.35,281.41 251.79,281.62 250.75,282.64 250.99,284.08 249.70,283.40 248.41,284.08 248.65,282.64 247.61,281.62 249.05,281.41" fill="#000" stroke="#000" stroke-width="0.5" stroke-linejoin="round"/>
<polygon points="247.50,313.40 248.15,314.61 249.50,314.85 248.55,315.84 248.73,317.20 247.50,316.60 246.27,317.20 246.45,315.84 245.50,314.85 246.85,314.61" fill="#000" stroke="#000" stroke-width="0.5" stroke-linejoin="round"/>
<polygon points="310.60,312.90 311.25,314.01 312.50,314.28 311.65,315.24 311.78,316.52 310.60,316.00 309.42,316.52 309.55,315.24 308.70,314.28 309.95,314.01" fill="#000" stroke="#000" stroke-width="0.5" stroke-linejoin="round"/>
<polygon points="310.60,343.50 311.25,344.61 312.50,344.88 311.65,345.84 311.78,347.12 310.60,346.60 309.42,347.12 309.55,345.84 308.70,344.88 309.95,344.61" fill="#000" stroke="#000" stroke-width="0.5" stroke-linejoin="round"/>
<line x1="285.5" y1="223.2" x2="302.5" y2="223.2" stroke="#000" stroke-width="1.1" />
<path d="M294.1 220.5L296.8 223.2L294.1 225.89999999999998L291.40000000000003 223.2Z" fill="#fff" stroke="#000" stroke-width="1"/>
<text x="304.5" y="226.39999999999998" font-size="8.85" text-anchor="start" font-weight="normal" fill="#222" >Empty vector</text>
<line x1="285.5" y1="237.0" x2="302.5" y2="237.0" stroke="#000" stroke-width="1.1" />
<path d="M294.1 234.6L296.5 238.92L291.70000000000005 238.92Z" fill="#000" stroke="#000" stroke-width="1"/>
<text x="304.5" y="240.2" font-size="8.85" text-anchor="start" font-weight="normal" fill="#222" >PML-RARA</text>
<line x1="285.5" y1="249.4" x2="302.5" y2="249.4" stroke="#000" stroke-width="1.1" />
<rect x="291.70000000000005" y="247.0" width="4.8" height="4.8" fill="#000" stroke="#000" stroke-width="1"/>
<text x="304.5" y="252.6" font-size="8.85" text-anchor="start" font-weight="normal" fill="#222" >AML1-ETO</text>
<text x="376.5" y="218" font-size="11.5" text-anchor="start" font-weight="bold" fill="#000" >E</text>
<line x1="411.5" y1="232.5" x2="411.5" y2="351.3" stroke="#777" stroke-width="1.3" />
<line x1="408.5" y1="351.3" x2="411.5" y2="351.3" stroke="#777" stroke-width="1" />
<text x="404.6" y="354.40000000000003" font-size="8.9" text-anchor="end" font-weight="normal" fill="#111" stroke="#111" stroke-width="0.2">0</text>
<line x1="408.5" y1="338.1" x2="411.5" y2="338.1" stroke="#777" stroke-width="1" />
<text x="404.6" y="341.20000000000005" font-size="8.9" text-anchor="end" font-weight="normal" fill="#111" stroke="#111" stroke-width="0.2">2</text>
<line x1="408.5" y1="324.90000000000003" x2="411.5" y2="324.90000000000003" stroke="#777" stroke-width="1" />
<text x="404.6" y="328.00000000000006" font-size="8.9" text-anchor="end" font-weight="normal" fill="#111" stroke="#111" stroke-width="0.2">4</text>
<line x1="408.5" y1="311.70000000000005" x2="411.5" y2="311.70000000000005" stroke="#777" stroke-width="1" />
<text x="404.6" y="314.80000000000007" font-size="8.9" text-anchor="end" font-weight="normal" fill="#111" stroke="#111" stroke-width="0.2">6</text>
<line x1="408.5" y1="298.5" x2="411.5" y2="298.5" stroke="#777" stroke-width="1" />
<text x="404.6" y="301.6" font-size="8.9" text-anchor="end" font-weight="normal" fill="#111" stroke="#111" stroke-width="0.2">8</text>
<line x1="408.5" y1="285.3" x2="411.5" y2="285.3" stroke="#777" stroke-width="1" />
<text x="404.6" y="288.40000000000003" font-size="8.9" text-anchor="end" font-weight="normal" fill="#111" stroke="#111" stroke-width="0.2">10</text>
<line x1="408.5" y1="272.1" x2="411.5" y2="272.1" stroke="#777" stroke-width="1" />
<text x="404.6" y="275.20000000000005" font-size="8.9" text-anchor="end" font-weight="normal" fill="#111" stroke="#111" stroke-width="0.2">12</text>
<line x1="408.5" y1="258.90000000000003" x2="411.5" y2="258.90000000000003" stroke="#777" stroke-width="1" />
<text x="404.6" y="262.00000000000006" font-size="8.9" text-anchor="end" font-weight="normal" fill="#111" stroke="#111" stroke-width="0.2">14</text>
<line x1="408.5" y1="245.70000000000002" x2="411.5" y2="245.70000000000002" stroke="#777" stroke-width="1" />
<text x="404.6" y="248.8" font-size="8.9" text-anchor="end" font-weight="normal" fill="#111" stroke="#111" stroke-width="0.2">16</text>
<line x1="408.5" y1="232.5" x2="411.5" y2="232.5" stroke="#777" stroke-width="1" />
<text x="404.6" y="235.6" font-size="8.9" text-anchor="end" font-weight="normal" fill="#111" stroke="#111" stroke-width="0.2">18</text>
<line x1="411.5" y1="351.3" x2="517" y2="351.3" stroke="#777" stroke-width="1" />
<line x1="411.5" y1="351.3" x2="411.5" y2="354.3" stroke="#777" stroke-width="1" />
<line x1="447" y1="351.3" x2="447" y2="354.3" stroke="#777" stroke-width="1" />
<line x1="482.5" y1="351.3" x2="482.5" y2="354.3" stroke="#777" stroke-width="1" />
<line x1="517" y1="351.3" x2="517" y2="354.3" stroke="#777" stroke-width="1" />
<rect x="422.5" y="252.30" width="7" height="99.00" fill="#fff" stroke="#000" stroke-width="1"/>
<rect x="429.5" y="321.60" width="7.2" height="29.70" fill="#000"/>
<line x1="426.0" y1="242.40000000000003" x2="426.0" y2="262.20000000000005" stroke="#000" stroke-width="1" />
<line x1="423.8" y1="242.40000000000003" x2="428.2" y2="242.40000000000003" stroke="#000" stroke-width="1" />
<line x1="423.8" y1="262.20000000000005" x2="428.2" y2="262.20000000000005" stroke="#000" stroke-width="1" />
<line x1="433.1" y1="315.0" x2="433.1" y2="321.6" stroke="#000" stroke-width="1" />
<line x1="430.90000000000003" y1="315.0" x2="435.3" y2="315.0" stroke="#000" stroke-width="1" />
<line x1="430.90000000000003" y1="321.6" x2="435.3" y2="321.6" stroke="#000" stroke-width="1" />
<rect x="457.5" y="326.88" width="7" height="24.42" fill="#fff" stroke="#000" stroke-width="1"/>
<rect x="464.5" y="341.40" width="7.2" height="9.90" fill="#000"/>
<line x1="461.0" y1="316.98" x2="461.0" y2="336.78000000000003" stroke="#000" stroke-width="1" />
<line x1="458.8" y1="316.98" x2="463.2" y2="316.98" stroke="#000" stroke-width="1" />
<line x1="458.8" y1="336.78000000000003" x2="463.2" y2="336.78000000000003" stroke="#000" stroke-width="1" />
<line x1="468.1" y1="331.5" x2="468.1" y2="341.40000000000003" stroke="#000" stroke-width="1" />
<line x1="465.90000000000003" y1="331.5" x2="470.3" y2="331.5" stroke="#000" stroke-width="1" />
<line x1="465.90000000000003" y1="341.40000000000003" x2="470.3" y2="341.40000000000003" stroke="#000" stroke-width="1" />
<rect x="492.6" y="320.94" width="7" height="30.36" fill="#fff" stroke="#000" stroke-width="1"/>
<rect x="499.6" y="340.08" width="7.2" height="11.22" fill="#000"/>
<line x1="496.1" y1="315.0" x2="496.1" y2="326.88" stroke="#000" stroke-width="1" />
<line x1="493.90000000000003" y1="315.0" x2="498.3" y2="315.0" stroke="#000" stroke-width="1" />
<line x1="493.90000000000003" y1="326.88" x2="498.3" y2="326.88" stroke="#000" stroke-width="1" />
<line x1="503.20000000000005" y1="333.48" x2="503.20000000000005" y2="340.08000000000004" stroke="#000" stroke-width="1" />
<line x1="501.00000000000006" y1="333.48" x2="505.40000000000003" y2="333.48" stroke="#000" stroke-width="1" />
<line x1="501.00000000000006" y1="340.08000000000004" x2="505.40000000000003" y2="340.08000000000004" stroke="#000" stroke-width="1" />
<polygon points="427.30,228.50 427.95,229.91 429.49,230.09 428.35,231.14 428.65,232.66 427.30,231.90 425.95,232.66 426.25,231.14 425.11,230.09 426.65,229.91" fill="#000" stroke="#000" stroke-width="0.5" stroke-linejoin="round"/>
<polygon points="431.90,228.50 432.55,229.91 434.09,230.09 432.95,231.14 433.25,232.66 431.90,231.90 430.55,232.66 430.85,231.14 429.71,230.09 431.25,229.91" fill="#000" stroke="#000" stroke-width="0.5" stroke-linejoin="round"/>
<line x1="424.5" y1="235.8" x2="434.8" y2="235.8" stroke="#000" stroke-width="1.9" />
<text x="429.9" y="367.9" font-size="10.2" text-anchor="middle" font-weight="normal" fill="#000" stroke="#000" stroke-width="0.25">Empty</text>
<text x="465.0" y="367.9" font-size="10.2" text-anchor="middle" font-weight="normal" fill="#000" stroke="#000" stroke-width="0.25">PML-</text>
<text x="465.0" y="379.6" font-size="10.2" text-anchor="middle" font-weight="normal" fill="#000" stroke="#000" stroke-width="0.25">RARA</text>
<text x="499.6" y="367.9" font-size="10.2" text-anchor="middle" font-weight="normal" fill="#000" stroke="#000" stroke-width="0.25">AML1-</text>
<text x="500.0" y="379.6" font-size="10.2" text-anchor="middle" font-weight="normal" fill="#000" stroke="#000" stroke-width="0.25">ETO</text>
<text transform="translate(383.4,297.3) rotate(-90)" font-size="10.6" stroke="#000" stroke-width="0.3" text-anchor="middle" fill="#000">% Specific killing</text>
<rect x="477.8" y="223.6" width="4.2" height="4.0" fill="#fff" stroke="#000" stroke-width="1.1"/>
<text x="483.8" y="227.5" font-size="8.0" text-anchor="start" font-weight="normal" fill="#111" stroke="#111" stroke-width="0.25">control Ab</text>
<rect x="477.3" y="239.4" width="5.2" height="4.6" fill="#000"/>
<text x="483.8" y="243.8" font-size="8.2" text-anchor="start" font-weight="normal" fill="#111" stroke="#111" stroke-width="0.25">anti-CD48</text>
</svg>
</body></html>
